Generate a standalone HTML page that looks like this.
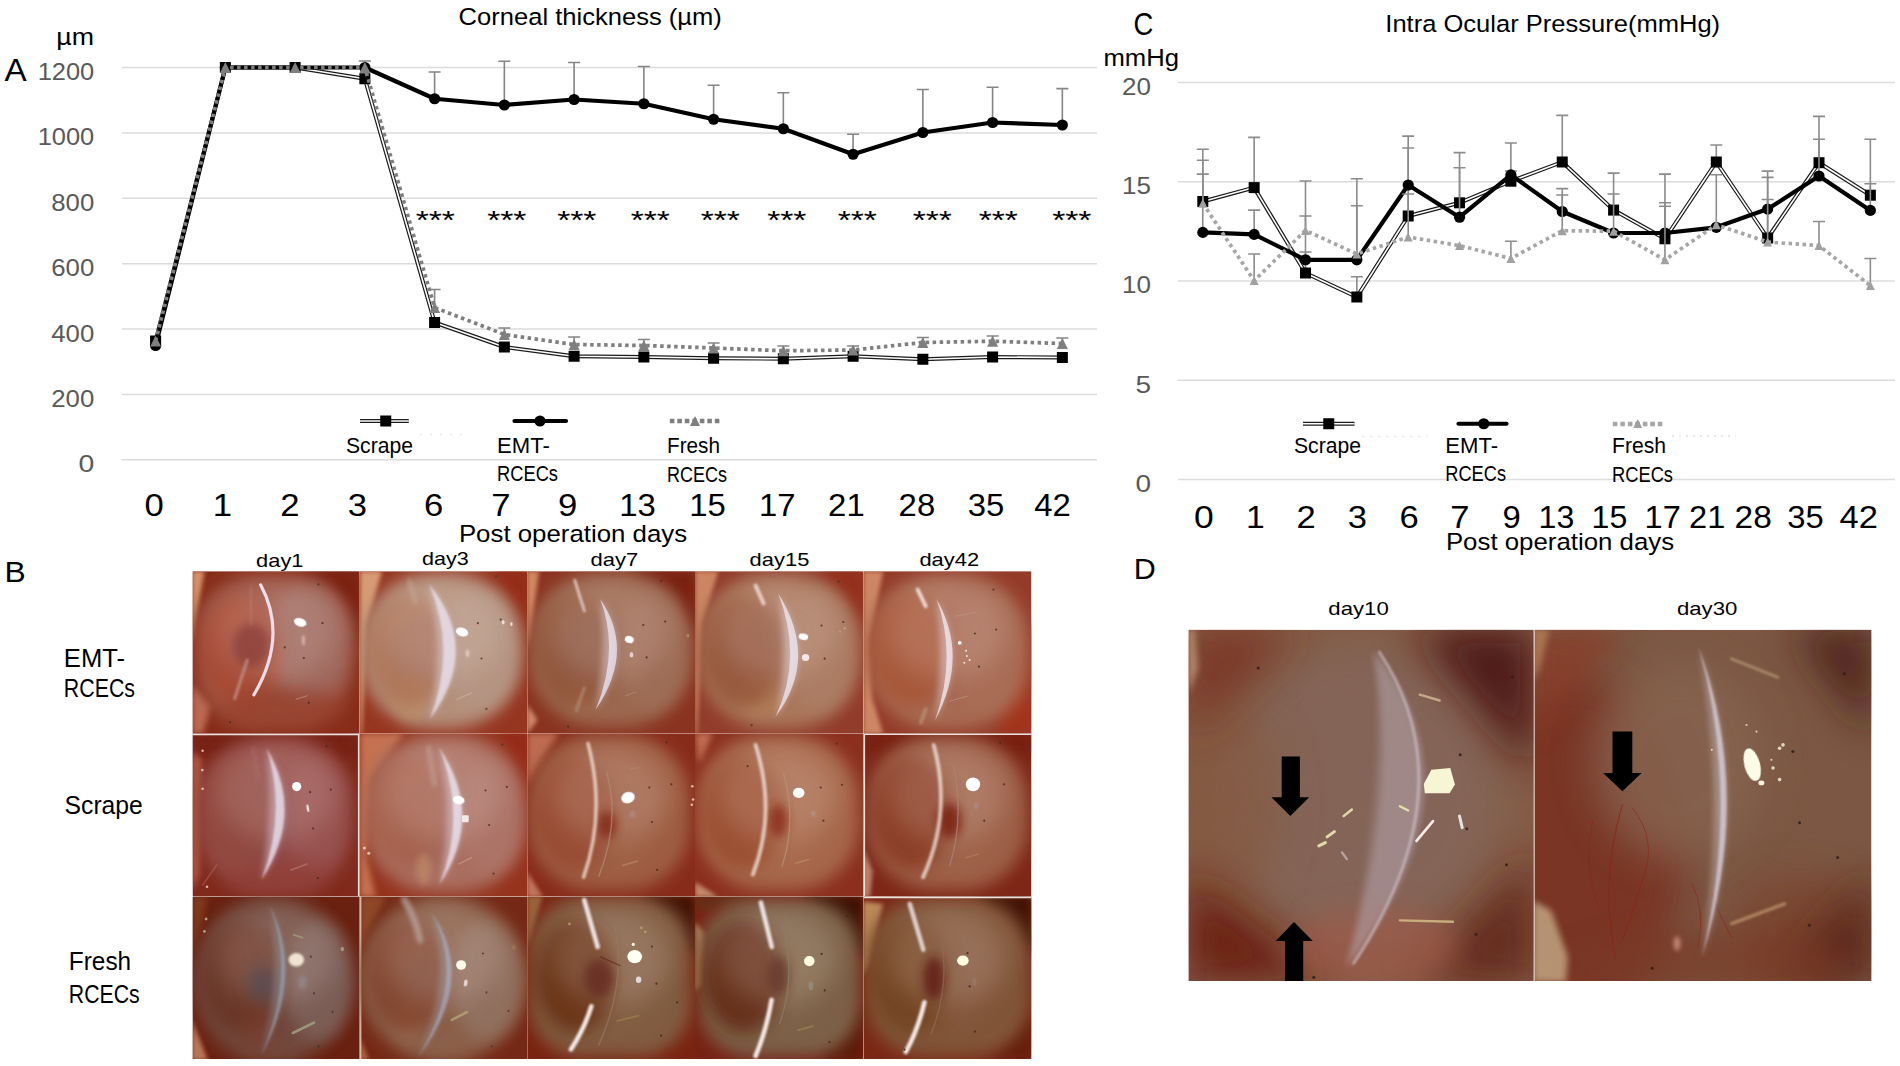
<!DOCTYPE html>
<html lang="en"><head><meta charset="utf-8"><title>Corneal thickness and intra ocular pressure</title>
<style>
html,body{margin:0;padding:0;background:#fff}
body{width:1900px;height:1066px;overflow:hidden}
svg{display:block}
text{font-family:"Liberation Sans",sans-serif}
</style></head><body>
<svg width="1900" height="1066" viewBox="0 0 1900 1066">
<defs><filter id="b05" x="-50%" y="-50%" width="200%" height="200%"><feGaussianBlur stdDeviation="0.5"/></filter>
<filter id="b1" x="-50%" y="-50%" width="200%" height="200%"><feGaussianBlur stdDeviation="1"/></filter>
<filter id="b2" x="-50%" y="-50%" width="200%" height="200%"><feGaussianBlur stdDeviation="2"/></filter>
<filter id="b3" x="-50%" y="-50%" width="200%" height="200%"><feGaussianBlur stdDeviation="3"/></filter>
<filter id="b5" x="-50%" y="-50%" width="200%" height="200%"><feGaussianBlur stdDeviation="5"/></filter>
<filter id="b8" x="-50%" y="-50%" width="200%" height="200%"><feGaussianBlur stdDeviation="8"/></filter>
<filter id="b12" x="-50%" y="-50%" width="200%" height="200%"><feGaussianBlur stdDeviation="12"/></filter>
<filter id="b20" x="-50%" y="-50%" width="200%" height="200%"><feGaussianBlur stdDeviation="20"/></filter>
<clipPath id="c00"><rect x="192.5" y="571.2" width="167.20" height="162.10"/></clipPath>
<clipPath id="c01"><rect x="359.7" y="571.2" width="167.50" height="162.10"/></clipPath>
<clipPath id="c02"><rect x="527.2" y="571.2" width="167.80" height="162.10"/></clipPath>
<clipPath id="c03"><rect x="695.0" y="571.2" width="168.50" height="162.10"/></clipPath>
<clipPath id="c04"><rect x="863.5" y="571.2" width="168.00" height="162.10"/></clipPath>
<clipPath id="c10"><rect x="192.5" y="733.3" width="167.20" height="163.20"/></clipPath>
<clipPath id="c11"><rect x="359.7" y="733.3" width="167.50" height="163.20"/></clipPath>
<clipPath id="c12"><rect x="527.2" y="733.3" width="167.80" height="163.20"/></clipPath>
<clipPath id="c13"><rect x="695.0" y="733.3" width="168.50" height="163.20"/></clipPath>
<clipPath id="c14"><rect x="863.5" y="733.3" width="168.00" height="163.20"/></clipPath>
<clipPath id="c20"><rect x="192.5" y="896.5" width="167.20" height="162.50"/></clipPath>
<clipPath id="c21"><rect x="359.7" y="896.5" width="167.50" height="162.50"/></clipPath>
<clipPath id="c22"><rect x="527.2" y="896.5" width="167.80" height="162.50"/></clipPath>
<clipPath id="c23"><rect x="695.0" y="896.5" width="168.50" height="162.50"/></clipPath>
<clipPath id="c24"><rect x="863.5" y="896.5" width="168.00" height="162.50"/></clipPath>
<clipPath id="d0"><rect x="1188.5" y="629.8" width="345.2" height="351.2"/></clipPath>
<clipPath id="d1"><rect x="1533.7" y="629.8" width="337.8" height="351.2"/></clipPath></defs>
<rect width="1900" height="1066" fill="#fff"/>
<g id="photos">
<g clip-path="url(#c00)"><rect x="192.5" y="571.2" width="167.20" height="162.10" fill="#882d19"/>
<polygon points="298.1,571.0 360.0,571.0 360.0,641.7" fill="#771f0f" opacity="0.8" filter="url(#b8)"/>
<polygon points="192.0,571.0 204.4,571.0 196.4,617.0 192.0,645.3" fill="#d49068" opacity="1" filter="url(#b2)"/>
<polygon points="192.0,684.2 211.5,705.4 202.6,733.7 192.0,733.7" fill="#c97a62" opacity="0.8" filter="url(#b3)"/>
<rect x="197.3" y="574.9" width="154.7" height="152.6" rx="58.4" fill="#9d5545" opacity="1" filter="url(#b8)"/>
<ellipse cx="306.9" cy="641.7" rx="44.2" ry="56.6" fill="#a16e65" opacity="0.8" filter="url(#b8)"/>
<ellipse cx="227.4" cy="629.4" rx="26.5" ry="35.4" fill="#a05b4d" opacity="0.5" filter="url(#b8)"/>
<ellipse cx="240.5" cy="651.2" rx="40" ry="56" fill="#ab4931" opacity="0.75" filter="url(#b8)"/>
<ellipse cx="276.5" cy="629.2" rx="60" ry="50" fill="#fff4f0" opacity="0.15" filter="url(#b12)"/>
<ellipse cx="251.2" cy="645.3" rx="18.6" ry="22.1" fill="#7e3634" opacity="0.6" filter="url(#b5)"/>
<ellipse cx="284.0" cy="710.7" rx="63.7" ry="21.2" fill="#953a28" opacity="0.55" filter="url(#b8)"/>
<path d="M250.4 586.9L251.8 624.1" fill="none" stroke="#b47c74" stroke-width="4" stroke-linecap="round" opacity="0.5" filter="url(#b2)"/>
<path d="M247.2 660.3L234.8 698.3" fill="none" stroke="#be8983" stroke-width="3.4" stroke-linecap="round" opacity="0.85" filter="url(#b1)"/>
<path d="M260.6 584.8Q288.4 636.4 253.9 694.8" fill="none" stroke="#efe4f6" stroke-width="3.2" stroke-linecap="round" opacity="0.95" filter="url(#b05)"/>
<ellipse cx="300.2" cy="622.3" rx="6.4" ry="4.1" fill="#ffffff" opacity="1" filter="url(#b05)" transform="rotate(18 300.2 622.3)"/>
<ellipse cx="303.4" cy="640.3" rx="1.6" ry="5.3" fill="#f0d8d8" opacity="0.55" filter="url(#b1)"/>
<path d="M296.3 699.2L306.9 695.8" fill="none" stroke="#b98577" stroke-width="1.4" stroke-linecap="round" opacity="0.7" filter="url(#b05)"/>
<circle cx="318.4" cy="584.3" r="1.1" fill="#432a23" opacity=".8"/><circle cx="322.5" cy="623.2" r="1.1" fill="#432a23" opacity=".8"/><circle cx="303.8" cy="658.0" r="1.1" fill="#432a23" opacity=".8"/><circle cx="308.7" cy="702.7" r="1.1" fill="#432a23" opacity=".8"/><circle cx="230.0" cy="722.2" r="1.1" fill="#432a23" opacity=".8"/><circle cx="284.8" cy="647.4" r="1.1" fill="#432a23" opacity=".8"/></g>
<g clip-path="url(#c01)"><rect x="359.7" y="571.2" width="167.50" height="162.10" fill="#963520"/>
<polygon points="360.0,571.0 382.1,571.0 367.1,624.1 361.8,733.7 360.0,733.7" fill="#d79b74" opacity="1" filter="url(#b2)"/>
<polygon points="492.6,571.0 528.0,571.0 528.0,624.1" fill="#942916" opacity="0.8" filter="url(#b5)"/>
<rect x="361.4" y="573.1" width="159.9" height="155.6" rx="70.7" fill="#b48f7a" opacity="1" filter="url(#b8)"/>
<ellipse cx="478.5" cy="650.6" rx="38.9" ry="58.4" fill="#b59888" opacity="0.65" filter="url(#b8)"/>
<ellipse cx="420.1" cy="648.8" rx="30.1" ry="35.4" fill="#937279" opacity="0.7" filter="url(#b8)"/>
<ellipse cx="410.4" cy="698.3" rx="19.5" ry="23.0" fill="#bf9067" opacity="0.55" filter="url(#b5)"/>
<ellipse cx="407.7" cy="651.2" rx="40" ry="56" fill="#ad7153" opacity="0.75" filter="url(#b8)"/>
<ellipse cx="443.7" cy="629.2" rx="60" ry="50" fill="#fff4f0" opacity="0.15" filter="url(#b12)"/>
<path d="M409.2 580.7L415.2 601.9" fill="none" stroke="#c4b0a2" stroke-width="4" stroke-linecap="round" opacity="0.6" filter="url(#b2)"/>
<path d="M429.0 584.3Q482.0 648.8 429.8 719.2Q444.3 648.8 429.0 584.3Z" fill="#ebe4f2" opacity="0.38" filter="url(#b3)"/><path d="M429.0 584.3Q482.0 648.8 429.8 719.2Q457.3 648.8 429.0 584.3Z" fill="#ebe4f2" opacity="0.72" filter="url(#b1)"/>
<ellipse cx="462.0" cy="632.0" rx="6.4" ry="4.2" fill="#ffffff" opacity="1" filter="url(#b05)" transform="rotate(18 462.0 632.0)"/>
<ellipse cx="467.5" cy="653.2" rx="1.6" ry="3.9" fill="#f6dedc" opacity="0.7" filter="url(#b1)"/>
<ellipse cx="503.2" cy="622.3" rx="1.4" ry="2.1" fill="#fae4dc" opacity="0.9" filter="url(#b05)"/>
<ellipse cx="511.4" cy="624.1" rx="1.2" ry="2.1" fill="#fae4dc" opacity="0.9" filter="url(#b05)"/>
<path d="M457.3 699.2L471.4 693.0" fill="none" stroke="#caaf98" stroke-width="1.4" stroke-linecap="round" opacity="0.7" filter="url(#b05)"/>
<circle cx="477.9" cy="623.2" r="1.1" fill="#4a352b" opacity=".8"/><circle cx="481.5" cy="658.5" r="1.1" fill="#4a352b" opacity=".8"/><circle cx="486.4" cy="708.9" r="1.1" fill="#4a352b" opacity=".8"/><circle cx="496.2" cy="576.3" r="1.1" fill="#4a352b" opacity=".8"/><circle cx="500.6" cy="619.6" r="1.1" fill="#4a352b" opacity=".8"/></g>
<g clip-path="url(#c02)"><rect x="527.2" y="571.2" width="167.80" height="162.10" fill="#8a3320"/>
<polygon points="628.0,571.0 695.0,571.0 695.0,632.1" fill="#741f0e" opacity="0.8" filter="url(#b5)"/>
<polygon points="527.0,571.0 539.0,571.0 531.0,632.1 527.0,650.7" fill="#d18962" opacity="1" filter="url(#b2)"/>
<polygon points="527.0,703.9 537.6,719.9 527.0,733.9" fill="#d59072" opacity="0.9" filter="url(#b2)"/>
<rect x="530.2" y="573.1" width="161.1" height="153.4" rx="66.5" fill="#9c6850" opacity="1" filter="url(#b8)"/>
<ellipse cx="651.9" cy="650.7" rx="34.6" ry="58.5" fill="#a0715c" opacity="0.6" filter="url(#b8)"/>
<ellipse cx="588.1" cy="648.1" rx="29.2" ry="34.6" fill="#846361" opacity="0.75" filter="url(#b8)"/>
<ellipse cx="580.2" cy="695.9" rx="13.3" ry="15.9" fill="#a67453" opacity="0.5" filter="url(#b5)"/>
<ellipse cx="575.2" cy="651.2" rx="40" ry="56" fill="#8f5239" opacity="0.75" filter="url(#b8)"/>
<ellipse cx="611.2" cy="629.2" rx="60" ry="50" fill="#fff4f0" opacity="0.15" filter="url(#b12)"/>
<path d="M574.8 580.3Q579.6 596.3 584.4 610.9" fill="none" stroke="#f2e2e2" stroke-width="3" stroke-linecap="round" opacity="0.7" filter="url(#b1)"/>
<path d="M584.2 688.0L576.4 710.6" fill="none" stroke="#b39378" stroke-width="3.6" stroke-linecap="round" opacity="0.6" filter="url(#b1)"/>
<path d="M600.1 598.9Q636.0 650.7 595.6 709.8Q607.0 650.7 600.1 598.9Z" fill="#ece6f4" opacity="0.4" filter="url(#b3)"/><path d="M600.1 598.9Q636.0 650.7 595.6 709.8Q620.0 650.7 600.1 598.9Z" fill="#ece6f4" opacity="0.76" filter="url(#b05)"/>
<ellipse cx="629.3" cy="639.6" rx="4.5" ry="3.5" fill="#ffffff" opacity="1" filter="url(#b05)" transform="rotate(15 629.3 639.6)"/>
<ellipse cx="631.5" cy="654.7" rx="1.9" ry="2.7" fill="#f4e0e6" opacity="0.8" filter="url(#b05)"/>
<ellipse cx="687.8" cy="635.6" rx="1.6" ry="1.9" fill="#ae8669" opacity="0.9" filter="url(#b05)"/>
<path d="M625.4 695.9L636.0 691.9" fill="none" stroke="#b28c6e" stroke-width="1.2" stroke-linecap="round" opacity="0.6" filter="url(#b05)"/>
<circle cx="643.2" cy="625.0" r="1.1" fill="#412a1f" opacity=".8"/><circle cx="665.2" cy="621.5" r="1.1" fill="#412a1f" opacity=".8"/><circle cx="646.6" cy="657.4" r="1.1" fill="#412a1f" opacity=".8"/><circle cx="661.2" cy="580.8" r="1.1" fill="#412a1f" opacity=".8"/><circle cx="568.2" cy="726.5" r="1.1" fill="#412a1f" opacity=".8"/></g>
<g clip-path="url(#c03)"><rect x="695.0" y="571.2" width="168.50" height="162.10" fill="#923c2b"/>
<polygon points="695.0,571.0 718.4,571.0 702.4,624.2 697.1,733.9 695.0,733.9" fill="#d38e69" opacity="0.9" filter="url(#b2)"/>
<polygon points="819.4,571.0 863.3,571.0 863.3,624.2" fill="#942b18" opacity="0.7" filter="url(#b5)"/>
<rect x="699.2" y="574.2" width="160.6" height="154.2" rx="69.1" fill="#aa775c" opacity="1" filter="url(#b8)"/>
<ellipse cx="819.4" cy="650.7" rx="34.6" ry="61.1" fill="#ad816a" opacity="0.55" filter="url(#b8)"/>
<ellipse cx="752.9" cy="648.1" rx="31.9" ry="31.9" fill="#936f68" opacity="0.6" filter="url(#b8)"/>
<ellipse cx="760.9" cy="695.9" rx="22.6" ry="21.3" fill="#b58159" opacity="0.55" filter="url(#b5)"/>
<ellipse cx="743.0" cy="651.2" rx="40" ry="56" fill="#935135" opacity="0.75" filter="url(#b8)"/>
<ellipse cx="779.0" cy="629.2" rx="60" ry="50" fill="#fff4f0" opacity="0.15" filter="url(#b12)"/>
<path d="M755.6 585.6L763.6 603.4" fill="none" stroke="#f6e6e2" stroke-width="4" stroke-linecap="round" opacity="0.75" filter="url(#b1)"/>
<path d="M778.2 593.6Q819.4 658.7 775.5 716.7Q790.4 658.7 778.2 593.6Z" fill="#efe8f4" opacity="0.4" filter="url(#b3)"/><path d="M778.2 593.6Q819.4 658.7 775.5 716.7Q803.4 658.7 778.2 593.6Z" fill="#efe8f4" opacity="0.76" filter="url(#b05)"/>
<ellipse cx="803.4" cy="636.7" rx="4.8" ry="3.2" fill="#ffffff" opacity="1" filter="url(#b05)" transform="rotate(10 803.4 636.7)"/>
<ellipse cx="805.6" cy="657.4" rx="3.7" ry="3.5" fill="#faeaea" opacity="0.95" filter="url(#b05)"/>
<ellipse cx="844.7" cy="628.2" rx="1.3" ry="1.3" fill="#c3a080" opacity="0.9"/>
<ellipse cx="840.1" cy="631.6" rx="1.1" ry="1.1" fill="#c3a080" opacity="0.9"/>
<circle cx="821.5" cy="625.5" r="1.1" fill="#462e22" opacity=".8"/><circle cx="843.3" cy="622.0" r="1.1" fill="#462e22" opacity=".8"/><circle cx="824.7" cy="658.7" r="1.1" fill="#462e22" opacity=".8"/><circle cx="838.5" cy="581.6" r="1.1" fill="#462e22" opacity=".8"/><circle cx="751.6" cy="725.2" r="1.1" fill="#462e22" opacity=".8"/></g>
<g clip-path="url(#c04)"><rect x="863.5" y="571.2" width="168.00" height="162.10" fill="#943b29"/>
<polygon points="863.3,571.0 883.2,571.0 869.9,640.1 872.6,698.6 883.2,733.9 863.3,733.9" fill="#d4906d" opacity="0.9" filter="url(#b2)"/>
<polygon points="1005.5,650.7 1032.1,624.2 1032.1,733.9 1000.2,733.9" fill="#a83018" opacity="0.7" filter="url(#b5)"/>
<rect x="868.0" y="574.2" width="161.9" height="155.8" rx="69.1" fill="#a86b52" opacity="1" filter="url(#b8)"/>
<ellipse cx="920.4" cy="650.7" rx="34.6" ry="39.9" fill="#a06f62" opacity="0.5" filter="url(#b8)"/>
<ellipse cx="984.2" cy="650.7" rx="31.9" ry="58.5" fill="#aa725b" opacity="0.5" filter="url(#b8)"/>
<ellipse cx="911.5" cy="651.2" rx="40" ry="56" fill="#a85230" opacity="0.75" filter="url(#b8)"/>
<ellipse cx="947.5" cy="629.2" rx="60" ry="50" fill="#fff4f0" opacity="0.15" filter="url(#b12)"/>
<path d="M917.7 589.6L925.7 606.1" fill="none" stroke="#faeeea" stroke-width="4" stroke-linecap="round" opacity="0.8" filter="url(#b1)"/>
<path d="M925.7 709.2L920.9 722.5" fill="none" stroke="#bf9880" stroke-width="4" stroke-linecap="round" opacity="0.6" filter="url(#b1)"/>
<path d="M936.4 598.9Q969.6 656.1 935.0 720.4Q944.6 656.1 936.4 598.9Z" fill="#f2ecf6" opacity="0.4" filter="url(#b3)"/><path d="M936.4 598.9Q969.6 656.1 935.0 720.4Q957.6 656.1 936.4 598.9Z" fill="#f2ecf6" opacity="0.76" filter="url(#b05)"/>
<ellipse cx="959.7" cy="642.8" rx="1.9" ry="1.9" fill="#ffffff" opacity="1" filter="url(#b05)"/>
<circle cx="966.9" cy="656.1" r="1" fill="#ffffff" opacity=".8"/><circle cx="969.6" cy="660.0" r="1" fill="#ffffff" opacity=".8"/><circle cx="964.3" cy="662.7" r="1" fill="#ffffff" opacity=".8"/><circle cx="966.1" cy="650.7" r="1" fill="#ffffff" opacity=".8"/>
<path d="M955.0 616.2L976.2 612.2" fill="none" stroke="#bb957d" stroke-width="1" stroke-linecap="round" opacity="0.7"/>
<path d="M949.6 701.2L968.3 695.9" fill="none" stroke="#bb957d" stroke-width="1" stroke-linecap="round" opacity="0.7"/>
<circle cx="993.5" cy="589.6" r="1.1" fill="#442c21" opacity=".8"/><circle cx="996.2" cy="629.5" r="1.1" fill="#442c21" opacity=".8"/><circle cx="974.9" cy="633.5" r="1.1" fill="#442c21" opacity=".8"/><circle cx="978.9" cy="666.7" r="1.1" fill="#442c21" opacity=".8"/></g>
<g clip-path="url(#c10)"><rect x="192.5" y="733.3" width="167.20" height="163.20" fill="#802a1c"/>
<polygon points="192.0,733.0 360.0,733.0 360.0,759.5 192.0,754.2" fill="#711c0e" opacity="0.7" filter="url(#b8)"/>
<polygon points="192.0,750.7 201.7,759.5 199.1,874.5 192.0,892.2" fill="#c6725b" opacity="0.7" filter="url(#b3)"/>
<rect x="200.5" y="738.0" width="151.0" height="155.1" rx="61.9" fill="#944a45" opacity="1" filter="url(#b8)"/>
<ellipse cx="314.0" cy="812.6" rx="33.6" ry="53.1" fill="#9b5a59" opacity="0.55" filter="url(#b8)"/>
<ellipse cx="255.7" cy="816.1" rx="35.4" ry="46.0" fill="#7f4a55" opacity="0.6" filter="url(#b8)"/>
<ellipse cx="276.9" cy="879.8" rx="53.1" ry="14.1" fill="#8e372d" opacity="0.5" filter="url(#b8)"/>
<ellipse cx="240.5" cy="813.3" rx="40" ry="56" fill="#93483e" opacity="0.75" filter="url(#b8)"/>
<ellipse cx="276.5" cy="791.3" rx="60" ry="50" fill="#fff4f0" opacity="0.15" filter="url(#b12)"/>
<path d="M253.0 748.9L258.5 779.3" fill="none" stroke="#ae7070" stroke-width="4" stroke-linecap="round" opacity="0.5" filter="url(#b2)"/>
<path d="M266.3 748.0Q305.2 812.6 261.3 880.1Q274.5 812.6 266.3 748.0Z" fill="#ebe4f4" opacity="0.39" filter="url(#b3)"/><path d="M266.3 748.0Q305.2 812.6 261.3 880.1Q287.5 812.6 266.3 748.0Z" fill="#ebe4f4" opacity="0.74" filter="url(#b1)"/>
<ellipse cx="296.7" cy="786.6" rx="4.6" ry="4.6" fill="#ffffff" opacity="1" filter="url(#b05)"/>
<ellipse cx="307.8" cy="808.2" rx="1.2" ry="3.9" fill="#faeeea" opacity="0.9" filter="url(#b05)" transform="rotate(-10 307.8 808.2)"/>
<path d="M291.0 870.0L306.9 864.2" fill="none" stroke="#b4756f" stroke-width="1.8" stroke-linecap="round" opacity="0.7" filter="url(#b05)"/>
<circle cx="202.6" cy="750.7" r="1.3" fill="#f4d8cc" opacity=".8"/><circle cx="202.3" cy="770.1" r="1.3" fill="#f4d8cc" opacity=".8"/><circle cx="202.6" cy="788.7" r="1.3" fill="#f4d8cc" opacity=".8"/><circle cx="207.0" cy="886.8" r="1.3" fill="#f4d8cc" opacity=".8"/>
<path d="M202.6 885.1L216.8 864.7" fill="none" stroke="#ac6154" stroke-width="1.5" stroke-linecap="round" opacity="0.6" filter="url(#b05)"/>
<circle cx="326.4" cy="746.3" r="1.1" fill="#412521" opacity=".8"/><circle cx="330.8" cy="789.6" r="1.1" fill="#412521" opacity=".8"/><circle cx="310.1" cy="792.2" r="1.1" fill="#412521" opacity=".8"/><circle cx="313.1" cy="828.5" r="1.1" fill="#412521" opacity=".8"/><circle cx="317.9" cy="878.0" r="1.1" fill="#412521" opacity=".8"/>
<path d="M192.5 734.5H358.7V896.5" fill="none" stroke="#f4ece8" stroke-width="1.6" opacity=".95"/></g>
<g clip-path="url(#c11)"><rect x="359.7" y="733.3" width="167.50" height="163.20" fill="#95331d"/>
<polygon points="360.0,733.0 404.2,733.0 372.4,779.0 366.2,856.8 375.9,896.9 360.0,896.9" fill="#d1825f" opacity="0.8" filter="url(#b3)"/>
<polygon points="501.5,733.0 528.0,733.0 528.0,803.7" fill="#962815" opacity="0.7" filter="url(#b5)"/>
<rect x="366.2" y="735.1" width="158.6" height="157.4" rx="67.2" fill="#aa6e60" opacity="1" filter="url(#b8)"/>
<ellipse cx="489.1" cy="817.9" rx="31.8" ry="56.6" fill="#ae786d" opacity="0.55" filter="url(#b8)"/>
<ellipse cx="421.9" cy="817.9" rx="35.4" ry="44.2" fill="#986669" opacity="0.5" filter="url(#b8)"/>
<ellipse cx="407.7" cy="813.3" rx="40" ry="56" fill="#a76148" opacity="0.75" filter="url(#b8)"/>
<ellipse cx="443.7" cy="791.3" rx="60" ry="50" fill="#fff4f0" opacity="0.15" filter="url(#b12)"/>
<path d="M428.6 748.0L434.6 784.3" fill="none" stroke="#c3a299" stroke-width="5.5" stroke-linecap="round" opacity="0.6" filter="url(#b2)"/>
<ellipse cx="423.7" cy="869.2" rx="8.0" ry="15.9" fill="#c1906b" opacity="0.6" filter="url(#b3)"/>
<path d="M438.7 747.1Q485.5 816.1 439.2 884.7Q454.9 816.1 438.7 747.1Z" fill="#ece6f4" opacity="0.39" filter="url(#b3)"/><path d="M438.7 747.1Q485.5 816.1 439.2 884.7Q467.9 816.1 438.7 747.1Z" fill="#ece6f4" opacity="0.74" filter="url(#b1)"/>
<ellipse cx="458.7" cy="800.2" rx="5.8" ry="4.1" fill="#ffffff" opacity="1" filter="url(#b05)" transform="rotate(10 458.7 800.2)"/>
<rect x="462.0" y="815.2" width="6.7" height="7.1" rx="1.1" fill="#faeeea" opacity="0.95" filter="url(#b05)"/>
<path d="M459.0 863.9L471.4 857.7" fill="none" stroke="#c39786" stroke-width="1.6" stroke-linecap="round" opacity="0.7" filter="url(#b05)"/>
<circle cx="364.4" cy="847.9" r="1.5" fill="#f4dccc" opacity=".8"/><circle cx="368.8" cy="853.2" r="1.5" fill="#f4dccc" opacity=".8"/>
<circle cx="485.5" cy="790.5" r="1.1" fill="#472e27" opacity=".8"/><circle cx="506.8" cy="786.9" r="1.1" fill="#472e27" opacity=".8"/><circle cx="489.1" cy="825.0" r="1.1" fill="#472e27" opacity=".8"/><circle cx="493.5" cy="873.6" r="1.1" fill="#472e27" opacity=".8"/><circle cx="502.3" cy="744.5" r="1.1" fill="#472e27" opacity=".8"/></g>
<g clip-path="url(#c12)"><rect x="527.2" y="733.3" width="167.80" height="163.20" fill="#882b1a"/>
<polygon points="527.0,733.0 558.9,733.0 532.3,775.5 527.0,786.2" fill="#cd7e61" opacity="0.8" filter="url(#b3)"/>
<polygon points="527.0,871.2 542.9,897.0 527.0,897.0" fill="#cd886a" opacity="0.8" filter="url(#b2)"/>
<rect x="529.1" y="735.1" width="160.6" height="155.2" rx="63.8" fill="#9e5d42" opacity="1" filter="url(#b8)"/>
<ellipse cx="609.4" cy="812.7" rx="53.2" ry="55.8" fill="#a1684d" opacity="0.5" filter="url(#b8)"/>
<ellipse cx="575.2" cy="813.3" rx="40" ry="56" fill="#96462d" opacity="0.75" filter="url(#b8)"/>
<ellipse cx="611.2" cy="791.3" rx="60" ry="50" fill="#fff4f0" opacity="0.15" filter="url(#b12)"/>
<ellipse cx="606.7" cy="824.7" rx="9.6" ry="13.8" fill="#7d2010" opacity="0.75" filter="url(#b5)"/>
<path d="M588.1 743.6Q606.2 812.7 583.6 877.1" fill="none" stroke="#f8ece8" stroke-width="3.6" stroke-linecap="round" opacity="0.72" filter="url(#b1)"/>
<path d="M606.7 772.9Q620.6 820.7 598.8 876.5" fill="none" stroke="#ae8a74" stroke-width="1.4" stroke-linecap="round" opacity="0.75" filter="url(#b05)"/>
<ellipse cx="628.0" cy="797.6" rx="6.9" ry="5.6" fill="#ffffff" opacity="1" filter="url(#b05)" transform="rotate(-20 628.0 797.6)"/>
<ellipse cx="632.5" cy="814.1" rx="2.9" ry="3.5" fill="#ac8884" opacity="0.85" filter="url(#b1)"/>
<path d="M622.7 865.4L637.3 861.1" fill="none" stroke="#b4825d" stroke-width="1.8" stroke-linecap="round" opacity="0.8" filter="url(#b05)"/>
<path d="M630.7 768.9L638.6 767.6" fill="none" stroke="#b48965" stroke-width="1.4" stroke-linecap="round" opacity="0.7" filter="url(#b05)"/>
<circle cx="692.3" cy="786.2" r="1.3" fill="#f4d8cc" opacity=".8"/><circle cx="693.1" cy="799.5" r="1.3" fill="#f4d8cc" opacity=".8"/><circle cx="691.8" cy="804.8" r="1.3" fill="#f4d8cc" opacity=".8"/>
<circle cx="649.3" cy="787.5" r="1.1" fill="#42291e" opacity=".8"/><circle cx="671.3" cy="784.3" r="1.1" fill="#42291e" opacity=".8"/><circle cx="651.9" cy="822.0" r="1.1" fill="#42291e" opacity=".8"/><circle cx="657.2" cy="869.9" r="1.1" fill="#42291e" opacity=".8"/><circle cx="666.6" cy="742.3" r="1.1" fill="#42291e" opacity=".8"/></g>
<g clip-path="url(#c13)"><rect x="695.0" y="733.3" width="168.50" height="163.20" fill="#8c2f1e"/>
<polygon points="695.0,733.0 713.1,733.0 698.5,764.9" fill="#cd7e61" opacity="0.8" filter="url(#b3)"/>
<polygon points="695.0,881.9 718.4,897.0 695.0,897.0" fill="#d1a07d" opacity="0.8" filter="url(#b2)"/>
<rect x="697.1" y="735.1" width="161.6" height="155.2" rx="66.5" fill="#a66649" opacity="1" filter="url(#b8)"/>
<ellipse cx="779.5" cy="812.7" rx="53.2" ry="55.8" fill="#ab7152" opacity="0.5" filter="url(#b8)"/>
<ellipse cx="743.0" cy="813.3" rx="40" ry="56" fill="#974929" opacity="0.75" filter="url(#b8)"/>
<ellipse cx="779.0" cy="791.3" rx="60" ry="50" fill="#fff4f0" opacity="0.15" filter="url(#b12)"/>
<ellipse cx="778.2" cy="820.7" rx="9.6" ry="16.5" fill="#852410" opacity="0.7" filter="url(#b5)"/>
<path d="M755.6 745.0Q776.9 812.7 752.9 874.4" fill="none" stroke="#f8ece8" stroke-width="4.0" stroke-linecap="round" opacity="0.72" filter="url(#b1)"/>
<path d="M783.5 772.9Q796.8 820.7 782.2 865.9" fill="none" stroke="#b7927a" stroke-width="1.4" stroke-linecap="round" opacity="0.75" filter="url(#b05)"/>
<ellipse cx="798.7" cy="792.8" rx="5.8" ry="5.1" fill="#ffffff" opacity="1" filter="url(#b05)"/>
<ellipse cx="813.5" cy="813.5" rx="2.1" ry="2.7" fill="#b4968b" opacity="0.85" filter="url(#b1)"/>
<path d="M795.5 863.2L808.8 859.5" fill="none" stroke="#bd8a61" stroke-width="1.6" stroke-linecap="round" opacity="0.7" filter="url(#b05)"/>
<circle cx="747.6" cy="766.2" r="1.1" fill="#452c1f" opacity=".8"/><circle cx="820.7" cy="787.5" r="1.1" fill="#452c1f" opacity=".8"/><circle cx="842.0" cy="784.8" r="1.1" fill="#452c1f" opacity=".8"/><circle cx="823.4" cy="820.7" r="1.1" fill="#452c1f" opacity=".8"/><circle cx="836.7" cy="743.6" r="1.1" fill="#452c1f" opacity=".8"/></g>
<g clip-path="url(#c14)"><rect x="863.5" y="733.3" width="168.00" height="163.20" fill="#7e2617"/>
<polygon points="863.3,733.0 1032.1,733.0 1032.1,754.3 863.3,748.9" fill="#741a0d" opacity="0.6" filter="url(#b5)"/>
<polygon points="863.3,847.3 872.6,871.2 869.9,897.0 863.3,897.0" fill="#d5ad90" opacity="0.7" filter="url(#b2)"/>
<rect x="867.2" y="736.7" width="160.6" height="153.6" rx="66.5" fill="#9d5f47" opacity="1" filter="url(#b8)"/>
<ellipse cx="949.6" cy="812.7" rx="53.2" ry="55.8" fill="#a16950" opacity="0.5" filter="url(#b8)"/>
<ellipse cx="911.5" cy="813.3" rx="40" ry="56" fill="#86351c" opacity="0.75" filter="url(#b8)"/>
<ellipse cx="947.5" cy="791.3" rx="60" ry="50" fill="#fff4f0" opacity="0.15" filter="url(#b12)"/>
<ellipse cx="949.6" cy="820.7" rx="12.2" ry="17.5" fill="#771c0f" opacity="0.8" filter="url(#b5)"/>
<path d="M933.7 745.0Q952.3 812.7 923.1 877.1" fill="none" stroke="#f8ece8" stroke-width="4.0" stroke-linecap="round" opacity="0.72" filter="url(#b1)"/>
<path d="M953.6 764.9Q964.3 820.7 949.6 865.9" fill="none" stroke="#a98474" stroke-width="1.4" stroke-linecap="round" opacity="0.75" filter="url(#b05)"/>
<ellipse cx="973.0" cy="784.3" rx="7.2" ry="6.9" fill="#ffffff" opacity="1" filter="url(#b05)"/>
<ellipse cx="976.2" cy="805.6" rx="2.1" ry="3.7" fill="#a78d8e" opacity="0.85" filter="url(#b1)"/>
<path d="M965.6 857.9L978.9 853.9" fill="none" stroke="#b48461" stroke-width="1.4" stroke-linecap="round" opacity="0.6" filter="url(#b05)"/>
<circle cx="1000.2" cy="742.8" r="1.1" fill="#422b20" opacity=".8"/><circle cx="1004.1" cy="784.3" r="1.1" fill="#422b20" opacity=".8"/><circle cx="984.2" cy="820.7" r="1.1" fill="#422b20" opacity=".8"/>
<path d="M864.3 896.5V734.3H1031.5" fill="none" stroke="#f4ece8" stroke-width="1.6" opacity=".95"/></g>
<g clip-path="url(#c20)"><rect x="192.5" y="896.5" width="167.20" height="162.50" fill="#6a2110"/>
<polygon points="192.0,896.0 207.9,896.0 202.6,920.8 192.0,954.4" fill="#8d4a28" opacity="0.6" filter="url(#b3)"/>
<polygon points="192.0,1019.8 207.9,1059.9 192.0,1059.9" fill="#cd8d6a" opacity="0.8" filter="url(#b2)"/>
<ellipse cx="271.6" cy="980.9" rx="78.7" ry="84.0" fill="#72493e" opacity="1" filter="url(#b8)"/>
<ellipse cx="319.3" cy="980.9" rx="33.6" ry="60.1" fill="#7f655e" opacity="0.75" filter="url(#b8)"/>
<ellipse cx="236.2" cy="966.7" rx="28.3" ry="53.1" fill="#754d42" opacity="0.5" filter="url(#b8)"/>
<ellipse cx="240.5" cy="976.5" rx="40" ry="56" fill="#673123" opacity="0.75" filter="url(#b8)"/>
<ellipse cx="276.5" cy="954.5" rx="60" ry="50" fill="#fff4f0" opacity="0.15" filter="url(#b12)"/>
<ellipse cx="262.7" cy="984.4" rx="15.0" ry="18.6" fill="#4a4856" opacity="0.6" filter="url(#b8)"/>
<ellipse cx="259.2" cy="1030.4" rx="17.7" ry="26.5" fill="#7a3a2a" opacity="0.5" filter="url(#b8)"/>
<path d="M269.8 905.7Q305.2 975.6 260.6 1056.0Q283.3 975.6 269.8 905.7Z" fill="#99a5b6" opacity="0.34" filter="url(#b3)"/><path d="M269.8 905.7Q305.2 975.6 260.6 1056.0Q296.3 975.6 269.8 905.7Z" fill="#99a5b6" opacity="0.64" filter="url(#b1)"/>
<ellipse cx="296.3" cy="959.7" rx="7.8" ry="6.7" fill="#f6eeda" opacity="0.92" filter="url(#b1)"/>
<ellipse cx="302.5" cy="982.6" rx="4.2" ry="7.1" fill="#9b9fac" opacity="0.4" filter="url(#b2)"/>
<path d="M293.7 934.9L302.5 937.7" fill="none" stroke="#a19d78" stroke-width="1.8" stroke-linecap="round" opacity="0.8" filter="url(#b05)"/>
<path d="M292.8 1033.0L314.0 1022.6" fill="none" stroke="#a1a280" stroke-width="2.6" stroke-linecap="round" opacity="0.85" filter="url(#b05)"/>
<ellipse cx="342.3" cy="949.1" rx="1.8" ry="2.1" fill="#a1a487" opacity="0.9" filter="url(#b05)"/>
<circle cx="204.4" cy="931.4" r="1.4" fill="#bdbf9f" opacity=".8"/><circle cx="206.1" cy="919.0" r="1.4" fill="#bdbf9f" opacity=".8"/>
<circle cx="310.8" cy="956.7" r="1.1" fill="#3c302c" opacity=".8"/><circle cx="314.0" cy="993.3" r="1.1" fill="#3c302c" opacity=".8"/><circle cx="318.4" cy="1046.3" r="1.1" fill="#3c302c" opacity=".8"/><circle cx="332.6" cy="1011.8" r="1.1" fill="#3c302c" opacity=".8"/></g>
<g clip-path="url(#c21)"><rect x="359.7" y="896.5" width="167.50" height="162.50" fill="#752815"/>
<polygon points="360.0,896.0 386.5,896.0 367.1,931.4 360.0,949.1" fill="#a15e34" opacity="0.6" filter="url(#b3)"/>
<polygon points="360.0,1037.5 368.8,1059.9 360.0,1059.9" fill="#c68059" opacity="0.7" filter="url(#b2)"/>
<polygon points="360.0,896.0 361.4,896.0 361.4,1059.9 360.0,1059.9" fill="#dcc9bf" opacity="0.9"/>
<ellipse cx="443.1" cy="979.1" rx="84.0" ry="84.0" fill="#8b614a" opacity="1" filter="url(#b8)"/>
<ellipse cx="485.5" cy="980.9" rx="35.4" ry="58.4" fill="#94786b" opacity="0.65" filter="url(#b8)"/>
<ellipse cx="421.9" cy="979.1" rx="21.2" ry="22.1" fill="#6d5e61" opacity="0.5" filter="url(#b8)"/>
<ellipse cx="409.5" cy="1019.8" rx="15.9" ry="23.0" fill="#a37254" opacity="0.55" filter="url(#b8)"/>
<ellipse cx="407.7" cy="976.5" rx="40" ry="56" fill="#81412a" opacity="0.75" filter="url(#b8)"/>
<ellipse cx="443.7" cy="954.5" rx="60" ry="50" fill="#fff4f0" opacity="0.15" filter="url(#b12)"/>
<path d="M404.2 899.5Q415.2 917.2 420.1 940.2" fill="none" stroke="#bcaeab" stroke-width="6.5" stroke-linecap="round" opacity="0.7" filter="url(#b2)"/>
<path d="M430.7 911.9Q478.5 977.3 417.5 1057.8Q454.9 977.3 430.7 911.9Z" fill="#a9b1c8" opacity="0.34" filter="url(#b3)"/><path d="M430.7 911.9Q478.5 977.3 417.5 1057.8Q467.9 977.3 430.7 911.9Z" fill="#a9b1c8" opacity="0.64" filter="url(#b1)"/>
<ellipse cx="461.1" cy="965.0" rx="5.0" ry="4.8" fill="#fffce8" opacity="1" filter="url(#b05)"/>
<ellipse cx="465.7" cy="983.0" rx="1.8" ry="3.5" fill="#f2e6e6" opacity="0.85" filter="url(#b05)" transform="rotate(10 465.7 983.0)"/>
<path d="M451.9 1019.8L467.0 1012.0" fill="none" stroke="#b5a574" stroke-width="2.6" stroke-linecap="round" opacity="0.8" filter="url(#b05)"/>
<ellipse cx="513.8" cy="947.3" rx="1.8" ry="2.5" fill="#ad8a61" opacity="0.6" filter="url(#b1)"/>
<circle cx="482.9" cy="953.5" r="1.1" fill="#473730" opacity=".8"/><circle cx="486.4" cy="992.4" r="1.1" fill="#473730" opacity=".8"/><circle cx="491.7" cy="1046.3" r="1.1" fill="#473730" opacity=".8"/><circle cx="508.5" cy="1010.9" r="1.1" fill="#473730" opacity=".8"/></g>
<g clip-path="url(#c22)"><rect x="527.2" y="896.5" width="167.80" height="162.50" fill="#7a2311"/>
<polygon points="527.0,896.0 542.9,896.0 527.0,949.2" fill="#a87e4c" opacity="0.7" filter="url(#b2)"/>
<polygon points="641.3,896.0 695.0,896.0 695.0,957.1" fill="#321104" opacity="0.8" filter="url(#b5)"/>
<rect x="529.1" y="897.1" width="162.1" height="159.5" rx="53.2" fill="#815c41" opacity="1" filter="url(#b8)"/>
<ellipse cx="614.7" cy="975.7" rx="53.2" ry="53.2" fill="#876448" opacity="0.5" filter="url(#b8)"/>
<ellipse cx="575.2" cy="976.5" rx="40" ry="56" fill="#652b0d" opacity="0.75" filter="url(#b8)"/>
<ellipse cx="611.2" cy="954.5" rx="60" ry="50" fill="#fff4f0" opacity="0.15" filter="url(#b12)"/>
<ellipse cx="598.8" cy="978.4" rx="14.9" ry="19.1" fill="#652c24" opacity="0.8" filter="url(#b5)"/>
<path d="M584.2 900.0L597.7 947.0" fill="none" stroke="#f6f0f2" stroke-width="4.6" stroke-linecap="round" opacity="0.9" filter="url(#b1)"/>
<path d="M591.3 1006.3Q584.4 1028.9 570.9 1049.4" fill="none" stroke="#faf2f2" stroke-width="4.6" stroke-linecap="round" opacity="0.95" filter="url(#b1)"/>
<path d="M614.7 925.2Q626.7 983.7 598.8 1044.9" fill="none" stroke="#967866" stroke-width="1.4" stroke-linecap="round" opacity="0.7" filter="url(#b05)"/>
<path d="M600.1 956.6L620.0 965.6" fill="none" stroke="#5c241a" stroke-width="1.2" stroke-linecap="round" opacity="0.6" filter="url(#b05)"/>
<ellipse cx="634.7" cy="956.6" rx="7.4" ry="6.6" fill="#fcfff2" opacity="1" filter="url(#b05)"/>
<ellipse cx="633.3" cy="944.4" rx="1.6" ry="1.6" fill="#fcfff2" opacity="0.9" filter="url(#b05)"/>
<ellipse cx="638.6" cy="979.7" rx="2.7" ry="3.2" fill="#f2eaf2" opacity="0.85" filter="url(#b05)"/>
<path d="M617.4 1020.9L638.6 1015.6" fill="none" stroke="#9b7c4b" stroke-width="1.8" stroke-linecap="round" opacity="0.8" filter="url(#b05)"/>
<circle cx="641.3" cy="927.9" r="1.3" fill="#bda36d" opacity=".8"/><circle cx="645.3" cy="931.9" r="1.3" fill="#bda36d" opacity=".8"/><circle cx="569.5" cy="923.9" r="1.3" fill="#bda36d" opacity=".8"/>
<circle cx="651.9" cy="946.5" r="1.1" fill="#3a261b" opacity=".8"/><circle cx="656.5" cy="983.7" r="1.1" fill="#3a261b" opacity=".8"/><circle cx="661.2" cy="1035.6" r="1.1" fill="#3a261b" opacity=".8"/><circle cx="677.2" cy="1002.3" r="1.1" fill="#3a261b" opacity=".8"/></g>
<g clip-path="url(#c23)"><rect x="695.0" y="896.5" width="168.50" height="162.50" fill="#762214"/>
<polygon points="695.0,922.6 705.1,933.2 702.4,983.7 695.0,991.7" fill="#cda674" opacity="0.7" filter="url(#b2)"/>
<polygon points="695.0,896.0 766.2,896.0 697.1,911.9" fill="#593714" opacity="0.5" filter="url(#b3)"/>
<polygon points="803.4,896.0 863.3,896.0 863.3,959.8" fill="#321104" opacity="0.85" filter="url(#b5)"/>
<polygon points="863.3,1002.3 863.3,1058.9 819.4,1058.9" fill="#4c1706" opacity="0.6" filter="url(#b5)"/>
<rect x="698.5" y="899.7" width="161.4" height="156.8" rx="53.2" fill="#7b6046" opacity="1" filter="url(#b8)"/>
<ellipse cx="782.2" cy="975.7" rx="53.2" ry="53.2" fill="#81684c" opacity="0.5" filter="url(#b8)"/>
<ellipse cx="743.0" cy="976.5" rx="40" ry="56" fill="#602108" opacity="0.75" filter="url(#b8)"/>
<ellipse cx="779.0" cy="954.5" rx="60" ry="50" fill="#fff4f0" opacity="0.15" filter="url(#b12)"/>
<ellipse cx="778.2" cy="975.7" rx="10.6" ry="19.1" fill="#64342b" opacity="0.72" filter="url(#b5)"/>
<path d="M760.9 902.6L771.8 947.0" fill="none" stroke="#f6f0f2" stroke-width="4.6" stroke-linecap="round" opacity="0.9" filter="url(#b1)"/>
<path d="M771.6 999.7Q766.8 1028.9 755.6 1056.0" fill="none" stroke="#faf2f2" stroke-width="4.6" stroke-linecap="round" opacity="0.95" filter="url(#b1)"/>
<path d="M782.2 925.2Q796.8 975.7 779.5 1023.6" fill="none" stroke="#8e7d6a" stroke-width="1.4" stroke-linecap="round" opacity="0.7" filter="url(#b05)"/>
<ellipse cx="809.3" cy="961.1" rx="5.3" ry="5.1" fill="#fffce2" opacity="1" filter="url(#b05)"/>
<ellipse cx="810.9" cy="985.8" rx="2.4" ry="4.5" fill="#968c7f" opacity="0.85" filter="url(#b05)"/>
<path d="M798.1 1030.2L812.8 1026.2" fill="none" stroke="#96824e" stroke-width="1.8" stroke-linecap="round" opacity="0.8" filter="url(#b05)"/>
<circle cx="821.5" cy="953.9" r="1.1" fill="#38271c" opacity=".8"/><circle cx="824.7" cy="990.4" r="1.1" fill="#38271c" opacity=".8"/><circle cx="829.5" cy="1042.2" r="1.1" fill="#38271c" opacity=".8"/><circle cx="847.3" cy="915.9" r="1.1" fill="#38271c" opacity=".8"/></g>
<g clip-path="url(#c24)"><rect x="863.5" y="896.5" width="168.00" height="162.50" fill="#7b2715"/>
<polygon points="863.3,901.3 883.2,904.0 869.9,962.5 863.3,975.7" fill="#d5ad72" opacity="0.75" filter="url(#b2)"/>
<polygon points="976.2,896.0 1032.1,896.0 1032.1,954.5" fill="#321104" opacity="0.8" filter="url(#b5)"/>
<polygon points="989.5,1058.9 1032.1,1058.9 1032.1,1013.0" fill="#4c1706" opacity="0.45" filter="url(#b5)"/>
<rect x="865.9" y="898.1" width="164.0" height="158.4" rx="58.5" fill="#805439" opacity="1" filter="url(#b8)"/>
<ellipse cx="949.6" cy="975.7" rx="53.2" ry="53.2" fill="#865a3f" opacity="0.5" filter="url(#b8)"/>
<ellipse cx="911.5" cy="976.5" rx="40" ry="56" fill="#71401c" opacity="0.75" filter="url(#b8)"/>
<ellipse cx="947.5" cy="954.5" rx="60" ry="50" fill="#fff4f0" opacity="0.15" filter="url(#b12)"/>
<ellipse cx="933.7" cy="978.4" rx="10.6" ry="21.8" fill="#621d16" opacity="0.85" filter="url(#b5)"/>
<path d="M909.8 904.0L923.3 949.7" fill="none" stroke="#f2eaee" stroke-width="4.6" stroke-linecap="round" opacity="0.8" filter="url(#b1)"/>
<path d="M924.4 1002.3Q918.3 1028.9 905.8 1052.0" fill="none" stroke="#faf2f2" stroke-width="4.6" stroke-linecap="round" opacity="0.95" filter="url(#b1)"/>
<path d="M940.3 933.2Q951.0 983.7 931.0 1034.2" fill="none" stroke="#8f6b58" stroke-width="1.4" stroke-linecap="round" opacity="0.7" filter="url(#b05)"/>
<ellipse cx="962.9" cy="960.6" rx="5.8" ry="5.1" fill="#fffce2" opacity="1" filter="url(#b05)"/>
<ellipse cx="974.4" cy="981.6" rx="2.1" ry="4.3" fill="#987769" opacity="0.85" filter="url(#b05)"/>
<circle cx="967.5" cy="953.2" r="1.1" fill="#392217" opacity=".8"/><circle cx="969.6" cy="986.4" r="1.1" fill="#392217" opacity=".8"/><circle cx="974.9" cy="1031.6" r="1.1" fill="#392217" opacity=".8"/><circle cx="904.5" cy="1049.6" r="1.1" fill="#392217" opacity=".8"/>
<path d="M863.5 897.5H1031.5" fill="none" stroke="#f4ece8" stroke-width="1.6" opacity=".95"/></g>
<g clip-path="url(#d0)"><rect x="1188.5" y="629.8" width="345.2" height="351.2" fill="#845c46"/><ellipse cx="1360.2" cy="794.6" rx="142.4" ry="152.3" fill="#84665a" opacity="0.85" filter="url(#b20)"/>
<ellipse cx="1231.0" cy="801.2" rx="49.7" ry="99.3" fill="#86583c" opacity="0.6" filter="url(#b20)"/>
<polygon points="1188.0,629.0 1297.3,629.0 1188.0,738.3" fill="#7a3020" opacity="0.85" filter="url(#b20)"/>
<polygon points="1413.2,629.0 1534.0,629.0 1534.0,771.4" fill="#4c1812" opacity="0.95" filter="url(#b20)"/>
<polygon points="1534.0,854.2 1534.0,982.0 1413.2,982.0" fill="#5e2418" opacity="0.85" filter="url(#b20)"/>
<polygon points="1188.0,874.0 1188.0,982.0 1330.4,982.0" fill="#6a1b0f" opacity="0.95" filter="url(#b20)"/>
<ellipse cx="1373.4" cy="946.9" rx="86.1" ry="39.7" fill="#a05a48" opacity="0.6" filter="url(#b12)"/>
<polygon points="1188.0,629.0 1194.6,629.0 1197.9,668.7 1188.0,695.2" fill="#c8a080" opacity="0.7" filter="url(#b3)"/>
<path d="M1373.4 650.5Q1486.0 787.9 1346.3 967.4Q1386.9 787.9 1373.4 650.5Z" fill="#b4a4ac" opacity="0.23" filter="url(#b3)"/><path d="M1373.4 650.5Q1486.0 787.9 1346.3 967.4Q1399.9 787.9 1373.4 650.5Z" fill="#b4a4ac" opacity="0.44" filter="url(#b3)"/>
<path d="M1379.4 652.2Q1469.5 787.9 1353.6 963.4" fill="none" stroke="#d4c8d2" stroke-width="3" stroke-linecap="round" opacity="0.6" filter="url(#b1)"/>
<polygon points="1431.4,769.7 1450.3,768.1 1454.9,784.6 1449.6,793.2 1424.8,793.2 1423.8,784.0" fill="#f6f6d4" opacity="1" filter="url(#b05)"/>
<path d="M1343.6 816.1L1351.9 809.5" fill="none" stroke="#ece8b0" stroke-width="2.4" stroke-linecap="round" opacity="0.9" filter="url(#b05)"/>
<path d="M1327.1 836.9L1334.4 831.6" fill="none" stroke="#ece8b0" stroke-width="3" stroke-linecap="round" opacity="0.9" filter="url(#b05)"/>
<path d="M1318.8 845.9L1325.4 842.6" fill="none" stroke="#ece8b0" stroke-width="3" stroke-linecap="round" opacity="0.9" filter="url(#b05)"/>
<path d="M1342.0 852.5L1346.9 859.1" fill="none" stroke="#d8ccd0" stroke-width="2.4" stroke-linecap="round" opacity="0.6" filter="url(#b05)"/>
<path d="M1399.9 806.2L1408.2 810.5" fill="none" stroke="#ece8b0" stroke-width="2.4" stroke-linecap="round" opacity="0.9" filter="url(#b05)"/>
<path d="M1433.0 821.1L1416.5 840.9" fill="none" stroke="#fbf4f4" stroke-width="2.6" stroke-linecap="round" opacity="0.95" filter="url(#b05)"/>
<path d="M1459.5 816.1L1462.2 827.7" fill="none" stroke="#f4f0f0" stroke-width="3" stroke-linecap="round" opacity="0.9" filter="url(#b05)"/>
<path d="M1399.9 920.4L1452.9 921.7" fill="none" stroke="#d4bc84" stroke-width="2.4" stroke-linecap="round" opacity="0.85" filter="url(#b05)"/>
<path d="M1419.8 694.6L1439.7 700.5" fill="none" stroke="#d4bc94" stroke-width="2.4" stroke-linecap="round" opacity="0.8" filter="url(#b05)"/>
<circle cx="1258.2" cy="668.1" r="1.5" fill="#2a1a16" opacity=".8"/><circle cx="1460.2" cy="754.8" r="1.5" fill="#2a1a16" opacity=".8"/><circle cx="1512.5" cy="677.0" r="1.5" fill="#2a1a16" opacity=".8"/><circle cx="1466.8" cy="828.7" r="1.5" fill="#2a1a16" opacity=".8"/><circle cx="1506.5" cy="864.8" r="1.5" fill="#2a1a16" opacity=".8"/><circle cx="1476.1" cy="934.3" r="1.5" fill="#2a1a16" opacity=".8"/><circle cx="1313.8" cy="977.3" r="1.5" fill="#2a1a16" opacity=".8"/><path d="M1281.7 756.5H1299.9V797.2H1309.2L1290.3 816.1L1271.4 797.2H1281.7Z" fill="#000"/><path d="M1294 922L1312.8 941H1303.2V985H1285V941H1275.7Z" fill="#000"/></g>
<g clip-path="url(#d1)"><rect x="1533.7" y="629.8" width="337.8" height="351.2" fill="#7c5844"/><ellipse cx="1576.0" cy="847.5" rx="109.2" ry="172.2" fill="#7a3220" opacity="0.9" filter="url(#b20)"/>
<ellipse cx="1678.7" cy="761.4" rx="86.1" ry="99.3" fill="#86644f" opacity="0.85" filter="url(#b20)"/>
<ellipse cx="1797.8" cy="927.0" rx="66.2" ry="53.0" fill="#7a3e28" opacity="0.6" filter="url(#b20)"/>
<polygon points="1533.0,629.0 1625.7,629.0 1533.0,738.2" fill="#8a3a26" opacity="0.7" filter="url(#b12)"/>
<polygon points="1791.2,629.0 1873.0,629.0 1873.0,738.2" fill="#481a13" opacity="0.9" filter="url(#b20)"/>
<polygon points="1873.0,870.7 1873.0,981.9 1774.7,981.9" fill="#582214" opacity="0.85" filter="url(#b20)"/>
<ellipse cx="1705.2" cy="963.4" rx="139.0" ry="33.1" fill="#7a3a26" opacity="0.6" filter="url(#b12)"/>
<polygon points="1533.0,900.5 1551.2,910.4 1567.8,956.7 1566.1,981.9 1533.0,981.9" fill="#ccb892" opacity="0.72" filter="url(#b3)"/>
<polygon points="1533.0,629.0 1549.6,629.0 1539.6,668.7 1533.0,682.0" fill="#c89068" opacity="0.6" filter="url(#b3)"/>
<path d="M1622.4 804.5Q1599.2 880.6 1615.8 960.1" fill="none" stroke="#8c2418" stroke-width="1.1" stroke-linecap="round" opacity="0.7" filter="url(#b05)"/>
<path d="M1632.3 807.8Q1658.8 840.9 1642.2 880.6" fill="none" stroke="#8c2418" stroke-width="1.0" stroke-linecap="round" opacity="0.6" filter="url(#b05)"/>
<path d="M1642.2 880.6Q1632.3 913.7 1622.4 940.2" fill="none" stroke="#8c2418" stroke-width="1.0" stroke-linecap="round" opacity="0.6" filter="url(#b05)"/>
<path d="M1592.6 821.0Q1582.7 867.4 1599.2 910.4" fill="none" stroke="#8c2418" stroke-width="0.9" stroke-linecap="round" opacity="0.55" filter="url(#b05)"/>
<path d="M1691.9 883.9Q1705.2 907.1 1698.5 946.8" fill="none" stroke="#8c2418" stroke-width="1.0" stroke-linecap="round" opacity="0.6" filter="url(#b05)"/>
<path d="M1711.8 893.8Q1721.7 920.3 1731.6 936.9" fill="none" stroke="#8c2418" stroke-width="1.0" stroke-linecap="round" opacity="0.6" filter="url(#b05)"/>
<path d="M1609.1 874.0Q1619.1 893.8 1612.5 920.3" fill="none" stroke="#8c2418" stroke-width="0.9" stroke-linecap="round" opacity="0.5" filter="url(#b05)"/>
<path d="M1698.5 647.2Q1753.2 794.5 1701.8 957.4Q1727.9 794.5 1698.5 647.2Z" fill="#dcd4e2" opacity="0.38" filter="url(#b3)"/><path d="M1698.5 647.2Q1753.2 794.5 1701.8 957.4Q1740.9 794.5 1698.5 647.2Z" fill="#dcd4e2" opacity="0.72" filter="url(#b1)"/>
<ellipse cx="1752.2" cy="764.7" rx="7.9" ry="16.6" fill="#fbfbe6" opacity="1" filter="url(#b05)" transform="rotate(-15 1752.2 764.7)"/>
<ellipse cx="1761.4" cy="782.9" rx="3.0" ry="2.3" fill="#fbfbe6" opacity="0.95" filter="url(#b05)"/>
<circle cx="1779.6" cy="748.2" r="1.8" fill="#fbf6e0" opacity=".8"/><circle cx="1773.0" cy="768.0" r="1.8" fill="#fbf6e0" opacity=".8"/><circle cx="1783.0" cy="744.9" r="1.8" fill="#fbf6e0" opacity=".8"/><circle cx="1779.6" cy="779.6" r="1.8" fill="#fbf6e0" opacity=".8"/>
<circle cx="1711.8" cy="749.8" r="1.1" fill="#f0e8d0" opacity=".8"/><circle cx="1756.5" cy="731.6" r="1.1" fill="#f0e8d0" opacity=".8"/><circle cx="1746.5" cy="725.0" r="1.1" fill="#f0e8d0" opacity=".8"/><circle cx="1771.4" cy="759.8" r="1.1" fill="#f0e8d0" opacity=".8"/>
<path d="M1731.6 658.8L1778.0 677.3" fill="none" stroke="#b89878" stroke-width="3" stroke-linecap="round" opacity="0.7" filter="url(#b1)"/>
<path d="M1731.6 923.6L1784.6 903.8" fill="none" stroke="#b88e68" stroke-width="3.4" stroke-linecap="round" opacity="0.8" filter="url(#b1)"/>
<ellipse cx="1677.0" cy="943.5" rx="3.3" ry="7.3" fill="#d89888" opacity="0.8" filter="url(#b2)"/>
<circle cx="1844.2" cy="673.7" r="1.5" fill="#2a1a16" opacity=".8"/><circle cx="1792.9" cy="751.5" r="1.5" fill="#2a1a16" opacity=".8"/><circle cx="1799.5" cy="822.7" r="1.5" fill="#2a1a16" opacity=".8"/><circle cx="1837.6" cy="857.4" r="1.5" fill="#2a1a16" opacity=".8"/><circle cx="1809.4" cy="925.3" r="1.5" fill="#2a1a16" opacity=".8"/><circle cx="1652.2" cy="968.3" r="1.5" fill="#2a1a16" opacity=".8"/><path d="M1612.5 731.6H1632.3V773H1641.6L1622.4 791.2L1603.2 773H1612.5Z" fill="#000"/><path d="M1534.3 629.8V981" stroke="#e8dcd4" stroke-width="1.2" opacity=".8"/></g>
</g>
<g id="chartA">
<path d="M122 67.50H1097" stroke="#dcdcdc" stroke-width="1.5"/>
<path d="M122 132.88H1097" stroke="#dcdcdc" stroke-width="1.5"/>
<path d="M122 198.26H1097" stroke="#dcdcdc" stroke-width="1.5"/>
<path d="M122 263.64H1097" stroke="#dcdcdc" stroke-width="1.5"/>
<path d="M122 329.02H1097" stroke="#dcdcdc" stroke-width="1.5"/>
<path d="M122 394.40H1097" stroke="#dcdcdc" stroke-width="1.5"/>
<path d="M122 459.78H1097" stroke="#dcdcdc" stroke-width="1.5"/>
<text x="94.29" y="80.10" font-size="24.30" fill="#595959" text-anchor="end" textLength="56.59" lengthAdjust="spacingAndGlyphs">1200</text>
<text x="94.29" y="145.48" font-size="24.30" fill="#595959" text-anchor="end" textLength="56.59" lengthAdjust="spacingAndGlyphs">1000</text>
<text x="94.29" y="210.86" font-size="24.30" fill="#595959" text-anchor="end" textLength="42.99" lengthAdjust="spacingAndGlyphs">800</text>
<text x="94.29" y="276.24" font-size="24.30" fill="#595959" text-anchor="end" textLength="42.99" lengthAdjust="spacingAndGlyphs">600</text>
<text x="94.29" y="341.62" font-size="24.30" fill="#595959" text-anchor="end" textLength="42.99" lengthAdjust="spacingAndGlyphs">400</text>
<text x="94.29" y="407.00" font-size="24.30" fill="#595959" text-anchor="end" textLength="42.99" lengthAdjust="spacingAndGlyphs">200</text>
<text x="94.29" y="472.38" font-size="24.30" fill="#595959" text-anchor="end" textLength="15.79" lengthAdjust="spacingAndGlyphs">0</text>
<polyline points="155.60,341.00 225.35,67.50 295.10,67.50 364.85,78.75 434.60,322.50 504.35,347.00 574.10,356.25 643.85,357.00 713.60,358.25 783.35,358.75 853.10,356.25 922.85,359.25 992.60,357.00 1062.35,357.50" fill="none" stroke="#1a1a1a" stroke-width="4.0" stroke-linejoin="round"/><polyline points="155.60,341.00 225.35,67.50 295.10,67.50 364.85,78.75 434.60,322.50 504.35,347.00 574.10,356.25 643.85,357.00 713.60,358.25 783.35,358.75 853.10,356.25 922.85,359.25 992.60,357.00 1062.35,357.50" fill="none" stroke="#fff" stroke-width="1.6" stroke-linejoin="round"/>
<rect x="150.10" y="335.50" width="11" height="11" fill="#000"/><rect x="219.85" y="62.00" width="11" height="11" fill="#000"/><rect x="289.60" y="62.00" width="11" height="11" fill="#000"/><rect x="359.35" y="73.25" width="11" height="11" fill="#000"/><rect x="429.10" y="317.00" width="11" height="11" fill="#000"/><rect x="498.85" y="341.50" width="11" height="11" fill="#000"/><rect x="568.60" y="350.75" width="11" height="11" fill="#000"/><rect x="638.35" y="351.50" width="11" height="11" fill="#000"/><rect x="708.10" y="352.75" width="11" height="11" fill="#000"/><rect x="777.85" y="353.25" width="11" height="11" fill="#000"/><rect x="847.60" y="350.75" width="11" height="11" fill="#000"/><rect x="917.35" y="353.75" width="11" height="11" fill="#000"/><rect x="987.10" y="351.50" width="11" height="11" fill="#000"/><rect x="1056.85" y="352.00" width="11" height="11" fill="#000"/>
<path d="M364.85 67.50V61.00M358.85 61.00H370.85" stroke="#858585" stroke-width="1.6" fill="none"/>
<path d="M434.60 98.75V72.00M428.60 72.00H440.60" stroke="#858585" stroke-width="1.6" fill="none"/>
<path d="M504.35 105.00V61.25M498.35 61.25H510.35" stroke="#858585" stroke-width="1.6" fill="none"/>
<path d="M574.10 99.50V62.50M568.10 62.50H580.10" stroke="#858585" stroke-width="1.6" fill="none"/>
<path d="M643.85 103.75V66.50M637.85 66.50H649.85" stroke="#858585" stroke-width="1.6" fill="none"/>
<path d="M713.60 119.25V85.25M707.60 85.25H719.60" stroke="#858585" stroke-width="1.6" fill="none"/>
<path d="M783.35 128.75V92.75M777.35 92.75H789.35" stroke="#858585" stroke-width="1.6" fill="none"/>
<path d="M853.10 154.25V134.25M847.10 134.25H859.10" stroke="#858585" stroke-width="1.6" fill="none"/>
<path d="M922.85 132.50V89.50M916.85 89.50H928.85" stroke="#858585" stroke-width="1.6" fill="none"/>
<path d="M992.60 122.50V87.25M986.60 87.25H998.60" stroke="#858585" stroke-width="1.6" fill="none"/>
<path d="M1062.35 125.00V88.60M1056.35 88.60H1068.35" stroke="#858585" stroke-width="1.6" fill="none"/>
<polyline points="155.60,345.50 225.35,67.50 295.10,67.50 364.85,67.50 434.60,98.75 504.35,105.00 574.10,99.50 643.85,103.75 713.60,119.25 783.35,128.75 853.10,154.25 922.85,132.50 992.60,122.50 1062.35,125.00" fill="none" stroke="#000" stroke-width="4.2" stroke-linejoin="round"/>
<circle cx="155.60" cy="345.50" r="5.6" fill="#000"/><circle cx="225.35" cy="67.50" r="5.6" fill="#000"/><circle cx="295.10" cy="67.50" r="5.6" fill="#000"/><circle cx="364.85" cy="67.50" r="5.6" fill="#000"/><circle cx="434.60" cy="98.75" r="5.6" fill="#000"/><circle cx="504.35" cy="105.00" r="5.6" fill="#000"/><circle cx="574.10" cy="99.50" r="5.6" fill="#000"/><circle cx="643.85" cy="103.75" r="5.6" fill="#000"/><circle cx="713.60" cy="119.25" r="5.6" fill="#000"/><circle cx="783.35" cy="128.75" r="5.6" fill="#000"/><circle cx="853.10" cy="154.25" r="5.6" fill="#000"/><circle cx="922.85" cy="132.50" r="5.6" fill="#000"/><circle cx="992.60" cy="122.50" r="5.6" fill="#000"/><circle cx="1062.35" cy="125.00" r="5.6" fill="#000"/>
<path d="M434.60 307.50V289.50M428.60 289.50H440.60" stroke="#858585" stroke-width="1.6" fill="none"/>
<path d="M504.35 334.50V328.00M498.35 328.00H510.35" stroke="#858585" stroke-width="1.6" fill="none"/>
<path d="M574.10 344.50V337.00M568.10 337.00H580.10" stroke="#858585" stroke-width="1.6" fill="none"/>
<path d="M643.85 345.50V339.50M637.85 339.50H649.85" stroke="#858585" stroke-width="1.6" fill="none"/>
<path d="M713.60 348.00V343.00M707.60 343.00H719.60" stroke="#858585" stroke-width="1.6" fill="none"/>
<path d="M783.35 350.75V346.00M777.35 346.00H789.35" stroke="#858585" stroke-width="1.6" fill="none"/>
<path d="M853.10 350.00V346.00M847.10 346.00H859.10" stroke="#858585" stroke-width="1.6" fill="none"/>
<path d="M922.85 342.50V337.50M916.85 337.50H928.85" stroke="#858585" stroke-width="1.6" fill="none"/>
<path d="M992.60 341.25V336.00M986.60 336.00H998.60" stroke="#858585" stroke-width="1.6" fill="none"/>
<path d="M1062.35 343.50V338.00M1056.35 338.00H1068.35" stroke="#858585" stroke-width="1.6" fill="none"/>
<polyline points="155.60,341.00 225.35,67.50 295.10,67.50 364.85,67.50 434.60,307.50 504.35,334.50 574.10,344.50 643.85,345.50 713.60,348.00 783.35,350.75 853.10,350.00 922.85,342.50 992.60,341.25 1062.35,343.50" fill="none" stroke="#7f7f7f" stroke-width="3.7" stroke-dasharray="3.5 3.5"/>
<path d="M155.60 335.50L161.10 346.50H150.10Z" fill="#7f7f7f"/><path d="M225.35 62.00L230.85 73.00H219.85Z" fill="#7f7f7f"/><path d="M295.10 62.00L300.60 73.00H289.60Z" fill="#7f7f7f"/><path d="M364.85 62.00L370.35 73.00H359.35Z" fill="#7f7f7f"/><path d="M434.60 302.00L440.10 313.00H429.10Z" fill="#7f7f7f"/><path d="M504.35 329.00L509.85 340.00H498.85Z" fill="#7f7f7f"/><path d="M574.10 339.00L579.60 350.00H568.60Z" fill="#7f7f7f"/><path d="M643.85 340.00L649.35 351.00H638.35Z" fill="#7f7f7f"/><path d="M713.60 342.50L719.10 353.50H708.10Z" fill="#7f7f7f"/><path d="M783.35 345.25L788.85 356.25H777.85Z" fill="#7f7f7f"/><path d="M853.10 344.50L858.60 355.50H847.60Z" fill="#7f7f7f"/><path d="M922.85 337.00L928.35 348.00H917.35Z" fill="#7f7f7f"/><path d="M992.60 335.75L998.10 346.75H987.10Z" fill="#7f7f7f"/><path d="M1062.35 338.00L1067.85 349.00H1056.85Z" fill="#7f7f7f"/>
<text x="415.70" y="229.20" font-size="25.50" fill="#000" text-anchor="start" textLength="39.30" lengthAdjust="spacingAndGlyphs">***</text>
<text x="487.20" y="229.20" font-size="25.50" fill="#000" text-anchor="start" textLength="39.30" lengthAdjust="spacingAndGlyphs">***</text>
<text x="557.20" y="229.20" font-size="25.50" fill="#000" text-anchor="start" textLength="39.30" lengthAdjust="spacingAndGlyphs">***</text>
<text x="630.70" y="229.20" font-size="25.50" fill="#000" text-anchor="start" textLength="39.30" lengthAdjust="spacingAndGlyphs">***</text>
<text x="700.70" y="229.20" font-size="25.50" fill="#000" text-anchor="start" textLength="39.30" lengthAdjust="spacingAndGlyphs">***</text>
<text x="767.20" y="229.20" font-size="25.50" fill="#000" text-anchor="start" textLength="39.30" lengthAdjust="spacingAndGlyphs">***</text>
<text x="837.70" y="229.20" font-size="25.50" fill="#000" text-anchor="start" textLength="39.30" lengthAdjust="spacingAndGlyphs">***</text>
<text x="912.70" y="229.20" font-size="25.50" fill="#000" text-anchor="start" textLength="39.30" lengthAdjust="spacingAndGlyphs">***</text>
<text x="978.70" y="229.20" font-size="25.50" fill="#000" text-anchor="start" textLength="39.30" lengthAdjust="spacingAndGlyphs">***</text>
<text x="1052.20" y="229.20" font-size="25.50" fill="#000" text-anchor="start" textLength="39.30" lengthAdjust="spacingAndGlyphs">***</text>
<polyline points="360.00,421.00 408.75,421.00" fill="none" stroke="#1a1a1a" stroke-width="4.0" stroke-linejoin="round"/><polyline points="360.00,421.00 408.75,421.00" fill="none" stroke="#fff" stroke-width="1.6" stroke-linejoin="round"/>
<rect x="380.25" y="415.50" width="11" height="11" fill="#000"/>
<path d="M514.5 421H566" stroke="#000" stroke-width="4.2" stroke-linecap="round"/>
<circle cx="540.00" cy="421.00" r="5.6" fill="#000"/>
<path d="M669.8 421H720" stroke="#7f7f7f" stroke-width="4.3" stroke-dasharray="4.6 2.9"/>
<path d="M695.00 416.00L700.00 426.00H690.00Z" fill="#7f7f7f"/>
<path d="M420 434.5H469" stroke="#e4e4e4" stroke-width="1" stroke-dasharray="2 8"/>
<text x="346.00" y="452.50" font-size="22.30" fill="#000" text-anchor="start" textLength="67.01" lengthAdjust="spacingAndGlyphs">Scrape</text>
<text x="497.00" y="452.50" font-size="22.30" fill="#000" text-anchor="start" textLength="52.76" lengthAdjust="spacingAndGlyphs">EMT-</text>
<text x="497.00" y="480.50" font-size="22.30" fill="#000" text-anchor="start" textLength="61.01" lengthAdjust="spacingAndGlyphs">RCECs</text>
<text x="667.00" y="453.00" font-size="22.30" fill="#000" text-anchor="start" textLength="53.01" lengthAdjust="spacingAndGlyphs">Fresh</text>
<text x="667.00" y="481.75" font-size="22.30" fill="#000" text-anchor="start" textLength="60.01" lengthAdjust="spacingAndGlyphs">RCECs</text>
<text x="144.60" y="516.25" font-size="31.20" fill="#000" text-anchor="start" textLength="19.31" lengthAdjust="spacingAndGlyphs">0</text>
<text x="212.85" y="516.25" font-size="31.20" fill="#000" text-anchor="start" textLength="19.31" lengthAdjust="spacingAndGlyphs">1</text>
<text x="280.35" y="516.25" font-size="31.20" fill="#000" text-anchor="start" textLength="19.31" lengthAdjust="spacingAndGlyphs">2</text>
<text x="347.85" y="516.25" font-size="31.20" fill="#000" text-anchor="start" textLength="19.31" lengthAdjust="spacingAndGlyphs">3</text>
<text x="424.10" y="516.25" font-size="31.20" fill="#000" text-anchor="start" textLength="19.31" lengthAdjust="spacingAndGlyphs">6</text>
<text x="491.35" y="516.25" font-size="31.20" fill="#000" text-anchor="start" textLength="19.31" lengthAdjust="spacingAndGlyphs">7</text>
<text x="558.10" y="516.25" font-size="31.20" fill="#000" text-anchor="start" textLength="19.31" lengthAdjust="spacingAndGlyphs">9</text>
<text x="619.32" y="516.25" font-size="31.20" fill="#000" text-anchor="start" textLength="36.56" lengthAdjust="spacingAndGlyphs">13</text>
<text x="689.22" y="516.25" font-size="31.20" fill="#000" text-anchor="start" textLength="36.56" lengthAdjust="spacingAndGlyphs">15</text>
<text x="758.97" y="516.25" font-size="31.20" fill="#000" text-anchor="start" textLength="36.56" lengthAdjust="spacingAndGlyphs">17</text>
<text x="828.12" y="516.25" font-size="31.20" fill="#000" text-anchor="start" textLength="36.56" lengthAdjust="spacingAndGlyphs">21</text>
<text x="898.62" y="516.25" font-size="31.20" fill="#000" text-anchor="start" textLength="36.56" lengthAdjust="spacingAndGlyphs">28</text>
<text x="967.82" y="516.25" font-size="31.20" fill="#000" text-anchor="start" textLength="36.56" lengthAdjust="spacingAndGlyphs">35</text>
<text x="1034.22" y="516.25" font-size="31.20" fill="#000" text-anchor="start" textLength="36.56" lengthAdjust="spacingAndGlyphs">42</text>
<text x="458.91" y="542.00" font-size="24.30" fill="#000" text-anchor="start" textLength="228.19" lengthAdjust="spacingAndGlyphs">Post operation days</text>
<text x="458.61" y="24.50" font-size="24.30" fill="#000" text-anchor="start" textLength="263.19" lengthAdjust="spacingAndGlyphs">Corneal thickness (µm)</text>
<text x="56.31" y="45.30" font-size="24.30" fill="#000" text-anchor="start" textLength="37.69" lengthAdjust="spacingAndGlyphs">µm</text>
<text x="4.51" y="81.40" font-size="31.00" fill="#000" text-anchor="start" textLength="22.19" lengthAdjust="spacingAndGlyphs">A</text>
</g>
<g id="chartC">
<path d="M1178 82.40H1895" stroke="#dcdcdc" stroke-width="1.5"/>
<path d="M1178 181.70H1895" stroke="#dcdcdc" stroke-width="1.5"/>
<path d="M1178 281.00H1895" stroke="#dcdcdc" stroke-width="1.5"/>
<path d="M1178 380.30H1895" stroke="#dcdcdc" stroke-width="1.5"/>
<path d="M1178 479.60H1895" stroke="#dcdcdc" stroke-width="1.5"/>
<text x="1151.09" y="94.60" font-size="24.30" fill="#595959" text-anchor="end" textLength="28.99" lengthAdjust="spacingAndGlyphs">20</text>
<text x="1151.09" y="193.90" font-size="24.30" fill="#595959" text-anchor="end" textLength="28.99" lengthAdjust="spacingAndGlyphs">15</text>
<text x="1151.09" y="293.20" font-size="24.30" fill="#595959" text-anchor="end" textLength="28.99" lengthAdjust="spacingAndGlyphs">10</text>
<text x="1151.09" y="392.50" font-size="24.30" fill="#595959" text-anchor="end" textLength="15.59" lengthAdjust="spacingAndGlyphs">5</text>
<text x="1151.09" y="491.80" font-size="24.30" fill="#595959" text-anchor="end" textLength="15.59" lengthAdjust="spacingAndGlyphs">0</text>
<path d="M1202.80 201.50V149.30M1196.80 149.30H1208.80" stroke="#8c8c8c" stroke-width="1.6" fill="none"/>
<path d="M1254.15 187.60V137.40M1248.15 137.40H1260.15" stroke="#8c8c8c" stroke-width="1.6" fill="none"/>
<path d="M1305.50 273.00V252.00M1299.50 252.00H1311.50" stroke="#8c8c8c" stroke-width="1.6" fill="none"/>
<path d="M1356.85 297.00V276.80M1350.85 276.80H1362.85" stroke="#8c8c8c" stroke-width="1.6" fill="none"/>
<path d="M1408.20 216.00V148.00M1402.20 148.00H1414.20" stroke="#8c8c8c" stroke-width="1.6" fill="none"/>
<path d="M1459.55 202.80V152.60M1453.55 152.60H1465.55" stroke="#8c8c8c" stroke-width="1.6" fill="none"/>
<path d="M1510.90 181.20V143.00M1504.90 143.00H1516.90" stroke="#8c8c8c" stroke-width="1.6" fill="none"/>
<path d="M1562.25 162.00V115.40M1556.25 115.40H1568.25" stroke="#8c8c8c" stroke-width="1.6" fill="none"/>
<path d="M1613.60 210.10V173.10M1607.60 173.10H1619.60" stroke="#8c8c8c" stroke-width="1.6" fill="none"/>
<path d="M1664.95 238.80V202.80M1658.95 202.80H1670.95" stroke="#8c8c8c" stroke-width="1.6" fill="none"/>
<path d="M1716.30 162.00V145.00M1710.30 145.00H1722.30" stroke="#8c8c8c" stroke-width="1.6" fill="none"/>
<path d="M1767.65 238.00V171.10M1761.65 171.10H1773.65" stroke="#8c8c8c" stroke-width="1.6" fill="none"/>
<path d="M1819.00 162.70V116.40M1813.00 116.40H1825.00" stroke="#8c8c8c" stroke-width="1.6" fill="none"/>
<path d="M1870.35 195.20V139.20M1864.35 139.20H1876.35" stroke="#8c8c8c" stroke-width="1.6" fill="none"/>
<polyline points="1202.80,201.50 1254.15,187.60 1305.50,273.00 1356.85,297.00 1408.20,216.00 1459.55,202.80 1510.90,181.20 1562.25,162.00 1613.60,210.10 1664.95,238.80 1716.30,162.00 1767.65,238.00 1819.00,162.70 1870.35,195.20" fill="none" stroke="#1a1a1a" stroke-width="4.0" stroke-linejoin="round"/><polyline points="1202.80,201.50 1254.15,187.60 1305.50,273.00 1356.85,297.00 1408.20,216.00 1459.55,202.80 1510.90,181.20 1562.25,162.00 1613.60,210.10 1664.95,238.80 1716.30,162.00 1767.65,238.00 1819.00,162.70 1870.35,195.20" fill="none" stroke="#fff" stroke-width="1.6" stroke-linejoin="round"/>
<rect x="1197.30" y="196.00" width="11" height="11" fill="#000"/><rect x="1248.65" y="182.10" width="11" height="11" fill="#000"/><rect x="1300.00" y="267.50" width="11" height="11" fill="#000"/><rect x="1351.35" y="291.50" width="11" height="11" fill="#000"/><rect x="1402.70" y="210.50" width="11" height="11" fill="#000"/><rect x="1454.05" y="197.30" width="11" height="11" fill="#000"/><rect x="1505.40" y="175.70" width="11" height="11" fill="#000"/><rect x="1556.75" y="156.50" width="11" height="11" fill="#000"/><rect x="1608.10" y="204.60" width="11" height="11" fill="#000"/><rect x="1659.45" y="233.30" width="11" height="11" fill="#000"/><rect x="1710.80" y="156.50" width="11" height="11" fill="#000"/><rect x="1762.15" y="232.50" width="11" height="11" fill="#000"/><rect x="1813.50" y="157.20" width="11" height="11" fill="#000"/><rect x="1864.85" y="189.70" width="11" height="11" fill="#000"/>
<path d="M1202.80 232.40V174.10M1196.80 174.10H1208.80" stroke="#8c8c8c" stroke-width="1.6" fill="none"/>
<path d="M1254.15 234.40V210.10M1248.15 210.10H1260.15" stroke="#8c8c8c" stroke-width="1.6" fill="none"/>
<path d="M1305.50 259.80V216.00M1299.50 216.00H1311.50" stroke="#8c8c8c" stroke-width="1.6" fill="none"/>
<path d="M1356.85 259.80V205.80M1350.85 205.80H1362.85" stroke="#8c8c8c" stroke-width="1.6" fill="none"/>
<path d="M1408.20 185.00V136.10M1402.20 136.10H1414.20" stroke="#8c8c8c" stroke-width="1.6" fill="none"/>
<path d="M1459.55 217.20V167.80M1453.55 167.80H1465.55" stroke="#8c8c8c" stroke-width="1.6" fill="none"/>
<path d="M1510.90 174.90V171.00M1504.90 171.00H1516.90" stroke="#8c8c8c" stroke-width="1.6" fill="none"/>
<path d="M1562.25 211.50V188.60M1556.25 188.60H1568.25" stroke="#8c8c8c" stroke-width="1.6" fill="none"/>
<path d="M1613.60 233.00V194.00M1607.60 194.00H1619.60" stroke="#8c8c8c" stroke-width="1.6" fill="none"/>
<path d="M1664.95 233.00V174.10M1658.95 174.10H1670.95" stroke="#8c8c8c" stroke-width="1.6" fill="none"/>
<path d="M1716.30 227.30V174.70M1710.30 174.70H1722.30" stroke="#8c8c8c" stroke-width="1.6" fill="none"/>
<path d="M1767.65 209.10V177.40M1761.65 177.40H1773.65" stroke="#8c8c8c" stroke-width="1.6" fill="none"/>
<path d="M1819.00 176.00V139.20M1813.00 139.20H1825.00" stroke="#8c8c8c" stroke-width="1.6" fill="none"/>
<path d="M1870.35 210.40V183.80M1864.35 183.80H1876.35" stroke="#8c8c8c" stroke-width="1.6" fill="none"/>
<polyline points="1202.80,232.40 1254.15,234.40 1305.50,259.80 1356.85,259.80 1408.20,185.00 1459.55,217.20 1510.90,174.90 1562.25,211.50 1613.60,233.00 1664.95,233.00 1716.30,227.30 1767.65,209.10 1819.00,176.00 1870.35,210.40" fill="none" stroke="#000" stroke-width="4.2" stroke-linejoin="round"/>
<circle cx="1202.80" cy="232.40" r="5.6" fill="#000"/><circle cx="1254.15" cy="234.40" r="5.6" fill="#000"/><circle cx="1305.50" cy="259.80" r="5.6" fill="#000"/><circle cx="1356.85" cy="259.80" r="5.6" fill="#000"/><circle cx="1408.20" cy="185.00" r="5.6" fill="#000"/><circle cx="1459.55" cy="217.20" r="5.6" fill="#000"/><circle cx="1510.90" cy="174.90" r="5.6" fill="#000"/><circle cx="1562.25" cy="211.50" r="5.6" fill="#000"/><circle cx="1613.60" cy="233.00" r="5.6" fill="#000"/><circle cx="1664.95" cy="233.00" r="5.6" fill="#000"/><circle cx="1716.30" cy="227.30" r="5.6" fill="#000"/><circle cx="1767.65" cy="209.10" r="5.6" fill="#000"/><circle cx="1819.00" cy="176.00" r="5.6" fill="#000"/><circle cx="1870.35" cy="210.40" r="5.6" fill="#000"/>
<path d="M1202.80 203.30V160.20M1196.80 160.20H1208.80" stroke="#8c8c8c" stroke-width="1.6" fill="none"/>
<path d="M1254.15 280.60V254.00M1248.15 254.00H1260.15" stroke="#8c8c8c" stroke-width="1.6" fill="none"/>
<path d="M1305.50 230.40V181.00M1299.50 181.00H1311.50" stroke="#8c8c8c" stroke-width="1.6" fill="none"/>
<path d="M1356.85 254.00V178.70M1350.85 178.70H1362.85" stroke="#8c8c8c" stroke-width="1.6" fill="none"/>
<path d="M1408.20 237.00V194.00M1402.20 194.00H1414.20" stroke="#8c8c8c" stroke-width="1.6" fill="none"/>
<path d="M1510.90 258.50V241.30M1504.90 241.30H1516.90" stroke="#8c8c8c" stroke-width="1.6" fill="none"/>
<path d="M1562.25 230.70V195.00M1556.25 195.00H1568.25" stroke="#8c8c8c" stroke-width="1.6" fill="none"/>
<path d="M1664.95 259.80V206.30M1658.95 206.30H1670.95" stroke="#8c8c8c" stroke-width="1.6" fill="none"/>
<path d="M1767.65 242.00V199.50M1761.65 199.50H1773.65" stroke="#8c8c8c" stroke-width="1.6" fill="none"/>
<path d="M1819.00 245.60V221.50M1813.00 221.50H1825.00" stroke="#8c8c8c" stroke-width="1.6" fill="none"/>
<path d="M1870.35 285.60V258.50M1864.35 258.50H1876.35" stroke="#8c8c8c" stroke-width="1.6" fill="none"/>
<polyline points="1202.80,203.30 1254.15,280.60 1305.50,230.40 1356.85,254.00 1408.20,237.00 1459.55,245.60 1510.90,258.50 1562.25,230.70 1613.60,231.20 1664.95,259.80 1716.30,224.80 1767.65,242.00 1819.00,245.60 1870.35,285.60" fill="none" stroke="#a6a6a6" stroke-width="3.7" stroke-dasharray="3.5 3.5"/>
<path d="M1202.80 198.80L1207.30 207.80H1198.30Z" fill="#a0a0a0"/><path d="M1254.15 276.10L1258.65 285.10H1249.65Z" fill="#a0a0a0"/><path d="M1305.50 225.90L1310.00 234.90H1301.00Z" fill="#a0a0a0"/><path d="M1356.85 249.50L1361.35 258.50H1352.35Z" fill="#a0a0a0"/><path d="M1408.20 232.50L1412.70 241.50H1403.70Z" fill="#a0a0a0"/><path d="M1459.55 241.10L1464.05 250.10H1455.05Z" fill="#a0a0a0"/><path d="M1510.90 254.00L1515.40 263.00H1506.40Z" fill="#a0a0a0"/><path d="M1562.25 226.20L1566.75 235.20H1557.75Z" fill="#a0a0a0"/><path d="M1613.60 226.70L1618.10 235.70H1609.10Z" fill="#a0a0a0"/><path d="M1664.95 255.30L1669.45 264.30H1660.45Z" fill="#a0a0a0"/><path d="M1716.30 220.30L1720.80 229.30H1711.80Z" fill="#a0a0a0"/><path d="M1767.65 237.50L1772.15 246.50H1763.15Z" fill="#a0a0a0"/><path d="M1819.00 241.10L1823.50 250.10H1814.50Z" fill="#a0a0a0"/><path d="M1870.35 281.10L1874.85 290.10H1865.85Z" fill="#a0a0a0"/>
<polyline points="1303.00,423.75 1354.50,423.75" fill="none" stroke="#1a1a1a" stroke-width="4.0" stroke-linejoin="round"/><polyline points="1303.00,423.75 1354.50,423.75" fill="none" stroke="#fff" stroke-width="1.6" stroke-linejoin="round"/>
<rect x="1323.25" y="418.25" width="11" height="11" fill="#000"/>
<path d="M1458.5 423.75H1506.5" stroke="#000" stroke-width="4.2" stroke-linecap="round"/>
<circle cx="1483.75" cy="423.75" r="5.6" fill="#000"/>
<path d="M1612.8 424H1662.7" stroke="#a6a6a6" stroke-width="4.3" stroke-dasharray="4.6 2.9"/>
<path d="M1637.70 419.00L1642.20 428.00H1633.20Z" fill="#a0a0a0"/>
<path d="M1362.5 436.75H1427.5" stroke="#dcdcdc" stroke-width="1" stroke-dasharray="2 6"/>
<path d="M1672 436H1736" stroke="#cfcfcf" stroke-width="1.2" stroke-dasharray="2 5"/>
<text x="1294.00" y="453.00" font-size="22.30" fill="#000" text-anchor="start" textLength="67.01" lengthAdjust="spacingAndGlyphs">Scrape</text>
<text x="1445.25" y="453.00" font-size="22.30" fill="#000" text-anchor="start" textLength="52.76" lengthAdjust="spacingAndGlyphs">EMT-</text>
<text x="1445.25" y="481.25" font-size="22.30" fill="#000" text-anchor="start" textLength="60.76" lengthAdjust="spacingAndGlyphs">RCECs</text>
<text x="1612.00" y="453.00" font-size="22.30" fill="#000" text-anchor="start" textLength="54.01" lengthAdjust="spacingAndGlyphs">Fresh</text>
<text x="1612.00" y="481.50" font-size="22.30" fill="#000" text-anchor="start" textLength="61.01" lengthAdjust="spacingAndGlyphs">RCECs</text>
<text x="1194.13" y="527.50" font-size="30.50" fill="#000" text-anchor="start" textLength="19.75" lengthAdjust="spacingAndGlyphs">0</text>
<text x="1246.13" y="527.50" font-size="30.50" fill="#000" text-anchor="start" textLength="18.75" lengthAdjust="spacingAndGlyphs">1</text>
<text x="1296.63" y="527.50" font-size="30.50" fill="#000" text-anchor="start" textLength="19.25" lengthAdjust="spacingAndGlyphs">2</text>
<text x="1347.88" y="527.50" font-size="30.50" fill="#000" text-anchor="start" textLength="19.25" lengthAdjust="spacingAndGlyphs">3</text>
<text x="1399.63" y="527.50" font-size="30.50" fill="#000" text-anchor="start" textLength="19.25" lengthAdjust="spacingAndGlyphs">6</text>
<text x="1450.38" y="527.50" font-size="30.50" fill="#000" text-anchor="start" textLength="19.25" lengthAdjust="spacingAndGlyphs">7</text>
<text x="1502.63" y="527.50" font-size="30.50" fill="#000" text-anchor="start" textLength="18.25" lengthAdjust="spacingAndGlyphs">9</text>
<text x="1538.63" y="527.50" font-size="30.50" fill="#000" text-anchor="start" textLength="35.74" lengthAdjust="spacingAndGlyphs">13</text>
<text x="1591.63" y="527.50" font-size="30.50" fill="#000" text-anchor="start" textLength="35.74" lengthAdjust="spacingAndGlyphs">15</text>
<text x="1644.63" y="527.50" font-size="30.50" fill="#000" text-anchor="start" textLength="36.24" lengthAdjust="spacingAndGlyphs">17</text>
<text x="1689.13" y="527.50" font-size="30.50" fill="#000" text-anchor="start" textLength="36.24" lengthAdjust="spacingAndGlyphs">21</text>
<text x="1734.63" y="527.50" font-size="30.50" fill="#000" text-anchor="start" textLength="37.24" lengthAdjust="spacingAndGlyphs">28</text>
<text x="1787.38" y="527.50" font-size="30.50" fill="#000" text-anchor="start" textLength="36.49" lengthAdjust="spacingAndGlyphs">35</text>
<text x="1839.63" y="527.50" font-size="30.50" fill="#000" text-anchor="start" textLength="38.49" lengthAdjust="spacingAndGlyphs">42</text>
<text x="1445.91" y="550.00" font-size="24.30" fill="#000" text-anchor="start" textLength="228.19" lengthAdjust="spacingAndGlyphs">Post operation days</text>
<text x="1385.31" y="32.00" font-size="24.30" fill="#000" text-anchor="start" textLength="334.79" lengthAdjust="spacingAndGlyphs">Intra Ocular Pressure(mmHg)</text>
<text x="1103.46" y="66.25" font-size="23.00" fill="#000" text-anchor="start" textLength="75.57" lengthAdjust="spacingAndGlyphs">mmHg</text>
<text x="1133.60" y="35.30" font-size="30.50" fill="#000" text-anchor="start" textLength="19.80" lengthAdjust="spacingAndGlyphs">C</text>
<text x="1133.80" y="579.25" font-size="30.00" fill="#000" text-anchor="start" textLength="22.00" lengthAdjust="spacingAndGlyphs">D</text>
</g>
<g id="labels">
<text x="4.60" y="582.20" font-size="30.00" fill="#000" text-anchor="start" textLength="21.20" lengthAdjust="spacingAndGlyphs">B</text>
<text x="256.14" y="566.60" font-size="19.00" fill="#000" text-anchor="start" textLength="47.31" lengthAdjust="spacingAndGlyphs">day1</text>
<text x="422.14" y="565.20" font-size="19.00" fill="#000" text-anchor="start" textLength="46.71" lengthAdjust="spacingAndGlyphs">day3</text>
<text x="590.44" y="566.00" font-size="19.00" fill="#000" text-anchor="start" textLength="47.71" lengthAdjust="spacingAndGlyphs">day7</text>
<text x="749.64" y="566.00" font-size="19.00" fill="#000" text-anchor="start" textLength="59.71" lengthAdjust="spacingAndGlyphs">day15</text>
<text x="919.44" y="566.00" font-size="19.00" fill="#000" text-anchor="start" textLength="59.71" lengthAdjust="spacingAndGlyphs">day42</text>
<text x="63.86" y="666.50" font-size="25.30" fill="#000" text-anchor="start" textLength="61.28" lengthAdjust="spacingAndGlyphs">EMT-</text>
<text x="63.86" y="697.20" font-size="25.30" fill="#000" text-anchor="start" textLength="71.18" lengthAdjust="spacingAndGlyphs">RCECs</text>
<text x="64.56" y="813.70" font-size="25.30" fill="#000" text-anchor="start" textLength="78.28" lengthAdjust="spacingAndGlyphs">Scrape</text>
<text x="68.86" y="970.40" font-size="25.30" fill="#000" text-anchor="start" textLength="62.28" lengthAdjust="spacingAndGlyphs">Fresh</text>
<text x="68.86" y="1003.00" font-size="25.30" fill="#000" text-anchor="start" textLength="70.88" lengthAdjust="spacingAndGlyphs">RCECs</text>
<text x="1328.35" y="614.60" font-size="19.00" fill="#000" text-anchor="start" textLength="60.41" lengthAdjust="spacingAndGlyphs">day10</text>
<text x="1676.94" y="614.60" font-size="19.00" fill="#000" text-anchor="start" textLength="60.41" lengthAdjust="spacingAndGlyphs">day30</text>
</g>
</svg>
</body></html>
